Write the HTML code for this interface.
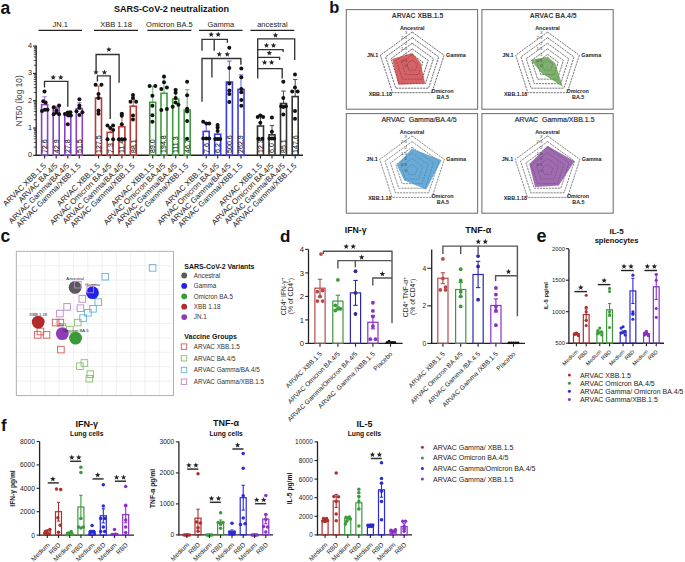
<!DOCTYPE html>
<html><head><meta charset="utf-8"><style>
html,body{margin:0;padding:0;background:#fff;width:685px;height:562px;overflow:hidden;}
svg{display:block;font-family:"Liberation Sans", sans-serif;}
</style></head><body>
<svg width="685" height="562" viewBox="0 0 685 562" font-family='"Liberation Sans", sans-serif'>
<rect width="685" height="562" fill="#fff"/>
<text x="0.50" y="13.70" font-size="17.5" text-anchor="start" font-weight="bold" fill="#111">a</text>
<text x="171.50" y="11.60" font-size="9.05" text-anchor="middle" font-weight="bold" fill="#111">SARS-CoV-2 neutralization</text>
<text x="60.25" y="27.40" font-size="7.5" text-anchor="middle" fill="#222">JN.1</text>
<line x1="38.50" y1="30.30" x2="82.00" y2="30.30" stroke="#222" stroke-width="1.3"/>
<text x="116.00" y="27.40" font-size="7.5" text-anchor="middle" fill="#222">XBB 1.18</text>
<line x1="94.00" y1="30.30" x2="138.00" y2="30.30" stroke="#222" stroke-width="1.3"/>
<text x="169.40" y="27.40" font-size="7.5" text-anchor="middle" fill="#222">Omicron BA.5</text>
<line x1="147.40" y1="30.30" x2="191.40" y2="30.30" stroke="#222" stroke-width="1.3"/>
<text x="220.75" y="27.40" font-size="7.5" text-anchor="middle" fill="#222">Gamma</text>
<line x1="199.00" y1="30.30" x2="242.50" y2="30.30" stroke="#222" stroke-width="1.3"/>
<text x="272.35" y="27.40" font-size="7.5" text-anchor="middle" fill="#222">ancestral</text>
<line x1="250.40" y1="30.30" x2="294.30" y2="30.30" stroke="#222" stroke-width="1.3"/>
<line x1="36.20" y1="45.60" x2="36.20" y2="155.90" stroke="#222" stroke-width="1.3"/>
<line x1="33.00" y1="155.30" x2="36.20" y2="155.30" stroke="#222" stroke-width="1.1"/>
<text x="32.00" y="157.10" font-size="7.3" text-anchor="end" fill="#222">0</text>
<line x1="33.00" y1="128.00" x2="36.20" y2="128.00" stroke="#222" stroke-width="1.1"/>
<text x="32.00" y="129.80" font-size="7.3" text-anchor="end" fill="#222">1</text>
<line x1="33.00" y1="100.70" x2="36.20" y2="100.70" stroke="#222" stroke-width="1.1"/>
<text x="32.00" y="102.50" font-size="7.3" text-anchor="end" fill="#222">2</text>
<line x1="33.00" y1="73.40" x2="36.20" y2="73.40" stroke="#222" stroke-width="1.1"/>
<text x="32.00" y="75.20" font-size="7.3" text-anchor="end" fill="#222">3</text>
<line x1="33.00" y1="46.10" x2="36.20" y2="46.10" stroke="#222" stroke-width="1.1"/>
<text x="32.00" y="47.90" font-size="7.3" text-anchor="end" fill="#222">4</text>
<line x1="33.80" y1="147.08" x2="36.20" y2="147.08" stroke="#222" stroke-width="0.8"/>
<line x1="33.80" y1="142.27" x2="36.20" y2="142.27" stroke="#222" stroke-width="0.8"/>
<line x1="33.80" y1="138.86" x2="36.20" y2="138.86" stroke="#222" stroke-width="0.8"/>
<line x1="33.80" y1="136.22" x2="36.20" y2="136.22" stroke="#222" stroke-width="0.8"/>
<line x1="33.80" y1="134.06" x2="36.20" y2="134.06" stroke="#222" stroke-width="0.8"/>
<line x1="33.80" y1="132.23" x2="36.20" y2="132.23" stroke="#222" stroke-width="0.8"/>
<line x1="33.80" y1="130.65" x2="36.20" y2="130.65" stroke="#222" stroke-width="0.8"/>
<line x1="33.80" y1="129.25" x2="36.20" y2="129.25" stroke="#222" stroke-width="0.8"/>
<line x1="33.80" y1="119.78" x2="36.20" y2="119.78" stroke="#222" stroke-width="0.8"/>
<line x1="33.80" y1="114.97" x2="36.20" y2="114.97" stroke="#222" stroke-width="0.8"/>
<line x1="33.80" y1="111.56" x2="36.20" y2="111.56" stroke="#222" stroke-width="0.8"/>
<line x1="33.80" y1="108.92" x2="36.20" y2="108.92" stroke="#222" stroke-width="0.8"/>
<line x1="33.80" y1="106.76" x2="36.20" y2="106.76" stroke="#222" stroke-width="0.8"/>
<line x1="33.80" y1="104.93" x2="36.20" y2="104.93" stroke="#222" stroke-width="0.8"/>
<line x1="33.80" y1="103.35" x2="36.20" y2="103.35" stroke="#222" stroke-width="0.8"/>
<line x1="33.80" y1="101.95" x2="36.20" y2="101.95" stroke="#222" stroke-width="0.8"/>
<line x1="33.80" y1="92.48" x2="36.20" y2="92.48" stroke="#222" stroke-width="0.8"/>
<line x1="33.80" y1="87.67" x2="36.20" y2="87.67" stroke="#222" stroke-width="0.8"/>
<line x1="33.80" y1="84.26" x2="36.20" y2="84.26" stroke="#222" stroke-width="0.8"/>
<line x1="33.80" y1="81.62" x2="36.20" y2="81.62" stroke="#222" stroke-width="0.8"/>
<line x1="33.80" y1="79.46" x2="36.20" y2="79.46" stroke="#222" stroke-width="0.8"/>
<line x1="33.80" y1="77.63" x2="36.20" y2="77.63" stroke="#222" stroke-width="0.8"/>
<line x1="33.80" y1="76.05" x2="36.20" y2="76.05" stroke="#222" stroke-width="0.8"/>
<line x1="33.80" y1="74.65" x2="36.20" y2="74.65" stroke="#222" stroke-width="0.8"/>
<line x1="33.80" y1="65.18" x2="36.20" y2="65.18" stroke="#222" stroke-width="0.8"/>
<line x1="33.80" y1="60.37" x2="36.20" y2="60.37" stroke="#222" stroke-width="0.8"/>
<line x1="33.80" y1="56.96" x2="36.20" y2="56.96" stroke="#222" stroke-width="0.8"/>
<line x1="33.80" y1="54.32" x2="36.20" y2="54.32" stroke="#222" stroke-width="0.8"/>
<line x1="33.80" y1="52.16" x2="36.20" y2="52.16" stroke="#222" stroke-width="0.8"/>
<line x1="33.80" y1="50.33" x2="36.20" y2="50.33" stroke="#222" stroke-width="0.8"/>
<line x1="33.80" y1="48.75" x2="36.20" y2="48.75" stroke="#222" stroke-width="0.8"/>
<line x1="33.80" y1="47.35" x2="36.20" y2="47.35" stroke="#222" stroke-width="0.8"/>
<text x="21.70" y="100.80" font-size="8.4" text-anchor="middle" fill="#333" transform="rotate(-90 21.70 100.80)">NT50 (log 10)</text>
<line x1="35.60" y1="155.30" x2="303.00" y2="155.30" stroke="#222" stroke-width="1.4"/>
<line x1="44.60" y1="96.80" x2="44.60" y2="104.60" stroke="#a77ad8" stroke-width="1.1"/>
<line x1="42.40" y1="96.80" x2="46.80" y2="96.80" stroke="#a77ad8" stroke-width="1.1"/>
<rect x="41.60" y="104.60" width="6.00" height="50.70" stroke="#8a43c8" stroke-width="1.6" fill="none"/>
<text x="47.00" y="152.90" font-size="7.0" text-anchor="start" fill="#222" transform="rotate(-90 47.00 152.90)" stroke="#222" stroke-width="0.12">72.6</text>
<circle cx="44.50" cy="91.50" r="2.0" fill="#111"/>
<circle cx="43.20" cy="101.20" r="2.0" fill="#111"/>
<circle cx="45.60" cy="102.40" r="2.0" fill="#111"/>
<circle cx="42.00" cy="111.00" r="2.0" fill="#111"/>
<circle cx="44.90" cy="109.80" r="2.0" fill="#111"/>
<circle cx="47.50" cy="109.80" r="2.0" fill="#111"/>
<line x1="44.60" y1="155.30" x2="44.60" y2="158.50" stroke="#222" stroke-width="1.1"/>
<text x="46.60" y="166.20" font-size="7.85" text-anchor="end" fill="#222" transform="rotate(-45 46.60 166.20)">ARVAC XBB.1.5</text>
<line x1="56.20" y1="106.20" x2="56.20" y2="107.90" stroke="#a77ad8" stroke-width="1.1"/>
<line x1="54.00" y1="106.20" x2="58.40" y2="106.20" stroke="#a77ad8" stroke-width="1.1"/>
<rect x="53.20" y="107.90" width="6.00" height="47.40" stroke="#8a43c8" stroke-width="1.6" fill="none"/>
<text x="58.60" y="152.90" font-size="7.0" text-anchor="start" fill="#222" transform="rotate(-90 58.60 152.90)" stroke="#222" stroke-width="0.12">42.9</text>
<circle cx="53.70" cy="107.20" r="2.0" fill="#111"/>
<circle cx="59.10" cy="105.50" r="2.0" fill="#111"/>
<circle cx="56.40" cy="110.50" r="2.0" fill="#111"/>
<circle cx="53.70" cy="114.30" r="2.0" fill="#111"/>
<circle cx="59.10" cy="114.30" r="2.0" fill="#111"/>
<circle cx="56.40" cy="112.50" r="2.0" fill="#111"/>
<line x1="56.20" y1="155.30" x2="56.20" y2="158.50" stroke="#222" stroke-width="1.1"/>
<text x="58.20" y="166.20" font-size="7.85" text-anchor="end" fill="#222" transform="rotate(-45 58.20 166.20)">ARVAC BA.4/5</text>
<line x1="67.80" y1="112.00" x2="67.80" y2="115.30" stroke="#a77ad8" stroke-width="1.1"/>
<line x1="65.60" y1="112.00" x2="70.00" y2="112.00" stroke="#a77ad8" stroke-width="1.1"/>
<rect x="64.80" y="115.30" width="6.00" height="40.00" stroke="#8a43c8" stroke-width="1.6" fill="none"/>
<text x="70.20" y="152.90" font-size="7.0" text-anchor="start" fill="#222" transform="rotate(-90 70.20 152.90)" stroke="#222" stroke-width="0.12">27.8</text>
<circle cx="64.90" cy="113.90" r="2.0" fill="#111"/>
<circle cx="67.80" cy="112.40" r="2.0" fill="#111"/>
<circle cx="70.40" cy="112.20" r="2.0" fill="#111"/>
<circle cx="68.20" cy="115.50" r="2.0" fill="#111"/>
<circle cx="70.90" cy="115.50" r="2.0" fill="#111"/>
<circle cx="67.80" cy="124.30" r="2.0" fill="#111"/>
<line x1="67.80" y1="155.30" x2="67.80" y2="158.50" stroke="#222" stroke-width="1.1"/>
<text x="69.80" y="166.20" font-size="7.85" text-anchor="end" fill="#222" transform="rotate(-45 69.80 166.20)">ARVAC Gamma/BA.4/5</text>
<line x1="79.30" y1="102.70" x2="79.30" y2="108.70" stroke="#a77ad8" stroke-width="1.1"/>
<line x1="77.10" y1="102.70" x2="81.50" y2="102.70" stroke="#a77ad8" stroke-width="1.1"/>
<rect x="76.30" y="108.70" width="6.00" height="46.60" stroke="#8a43c8" stroke-width="1.6" fill="none"/>
<text x="81.70" y="152.90" font-size="7.0" text-anchor="start" fill="#222" transform="rotate(-90 81.70 152.90)" stroke="#222" stroke-width="0.12">51.5</text>
<circle cx="79.40" cy="99.30" r="2.0" fill="#111"/>
<circle cx="79.40" cy="105.50" r="2.0" fill="#111"/>
<circle cx="79.40" cy="107.70" r="2.0" fill="#111"/>
<circle cx="76.50" cy="111.20" r="2.0" fill="#111"/>
<circle cx="82.40" cy="112.20" r="2.0" fill="#111"/>
<circle cx="79.40" cy="115.10" r="2.0" fill="#111"/>
<line x1="79.30" y1="155.30" x2="79.30" y2="158.50" stroke="#222" stroke-width="1.1"/>
<text x="81.30" y="166.20" font-size="7.85" text-anchor="end" fill="#222" transform="rotate(-45 81.30 166.20)">ARVAC Gamma/XBB.1.5</text>
<line x1="98.50" y1="86.00" x2="98.50" y2="98.10" stroke="#cc6a66" stroke-width="1.1"/>
<line x1="96.30" y1="86.00" x2="100.70" y2="86.00" stroke="#cc6a66" stroke-width="1.1"/>
<rect x="95.50" y="98.10" width="6.00" height="57.20" stroke="#b83a36" stroke-width="1.6" fill="none"/>
<text x="100.90" y="152.90" font-size="7.0" text-anchor="start" fill="#222" transform="rotate(-90 100.90 152.90)" stroke="#222" stroke-width="0.12">127.5</text>
<circle cx="95.60" cy="84.70" r="2.0" fill="#111"/>
<circle cx="101.50" cy="84.70" r="2.0" fill="#111"/>
<circle cx="98.50" cy="94.00" r="2.0" fill="#111"/>
<circle cx="98.50" cy="98.10" r="2.0" fill="#111"/>
<circle cx="98.50" cy="110.50" r="2.0" fill="#111"/>
<circle cx="98.50" cy="113.70" r="2.0" fill="#111"/>
<line x1="98.50" y1="155.30" x2="98.50" y2="158.50" stroke="#222" stroke-width="1.1"/>
<text x="100.50" y="166.20" font-size="7.85" text-anchor="end" fill="#222" transform="rotate(-45 100.50 166.20)">ARVAC XBB.1.5</text>
<line x1="110.20" y1="127.00" x2="110.20" y2="132.40" stroke="#cc6a66" stroke-width="1.1"/>
<line x1="108.00" y1="127.00" x2="112.40" y2="127.00" stroke="#cc6a66" stroke-width="1.1"/>
<rect x="107.20" y="132.40" width="6.00" height="22.90" stroke="#b83a36" stroke-width="1.6" fill="none"/>
<text x="112.60" y="152.90" font-size="7.0" text-anchor="start" fill="#222" transform="rotate(-90 112.60 152.90)" stroke="#222" stroke-width="0.12">7.3</text>
<circle cx="107.50" cy="125.50" r="2.0" fill="#111"/>
<circle cx="113.10" cy="125.50" r="2.0" fill="#111"/>
<circle cx="110.20" cy="128.00" r="2.0" fill="#111"/>
<circle cx="113.10" cy="129.90" r="2.0" fill="#111"/>
<circle cx="107.50" cy="139.20" r="2.0" fill="#111"/>
<circle cx="113.10" cy="139.20" r="2.0" fill="#111"/>
<line x1="110.20" y1="155.30" x2="110.20" y2="158.50" stroke="#222" stroke-width="1.1"/>
<text x="112.20" y="166.20" font-size="7.85" text-anchor="end" fill="#222" transform="rotate(-45 112.20 166.20)">ARVAC Omicron BA.4/5</text>
<line x1="121.90" y1="114.00" x2="121.90" y2="126.70" stroke="#cc6a66" stroke-width="1.1"/>
<line x1="119.70" y1="114.00" x2="124.10" y2="114.00" stroke="#cc6a66" stroke-width="1.1"/>
<rect x="118.90" y="126.70" width="6.00" height="28.60" stroke="#b83a36" stroke-width="1.6" fill="none"/>
<text x="124.30" y="152.90" font-size="7.0" text-anchor="start" fill="#222" transform="rotate(-90 124.30 152.90)" stroke="#222" stroke-width="0.12">11.4</text>
<circle cx="121.80" cy="113.70" r="2.0" fill="#111"/>
<circle cx="121.80" cy="115.80" r="2.0" fill="#111"/>
<circle cx="121.80" cy="124.30" r="2.0" fill="#111"/>
<circle cx="118.90" cy="139.20" r="2.0" fill="#111"/>
<circle cx="124.70" cy="139.20" r="2.0" fill="#111"/>
<circle cx="121.80" cy="139.20" r="2.0" fill="#111"/>
<line x1="121.90" y1="155.30" x2="121.90" y2="158.50" stroke="#222" stroke-width="1.1"/>
<text x="123.90" y="166.20" font-size="7.85" text-anchor="end" fill="#222" transform="rotate(-45 123.90 166.20)">ARVAC Gamma/BA.4/5</text>
<line x1="133.30" y1="99.50" x2="133.30" y2="106.20" stroke="#cc6a66" stroke-width="1.1"/>
<line x1="131.10" y1="99.50" x2="135.50" y2="99.50" stroke="#cc6a66" stroke-width="1.1"/>
<rect x="130.30" y="106.20" width="6.00" height="49.10" stroke="#b83a36" stroke-width="1.6" fill="none"/>
<text x="135.70" y="152.90" font-size="7.0" text-anchor="start" fill="#222" transform="rotate(-90 135.70 152.90)" stroke="#222" stroke-width="0.12">88.1</text>
<circle cx="133.00" cy="95.00" r="2.0" fill="#111"/>
<circle cx="133.00" cy="98.10" r="2.0" fill="#111"/>
<circle cx="130.50" cy="101.80" r="2.0" fill="#111"/>
<circle cx="136.10" cy="101.80" r="2.0" fill="#111"/>
<circle cx="133.00" cy="115.50" r="2.0" fill="#111"/>
<circle cx="133.00" cy="119.60" r="2.0" fill="#111"/>
<line x1="133.30" y1="155.30" x2="133.30" y2="158.50" stroke="#222" stroke-width="1.1"/>
<text x="135.30" y="166.20" font-size="7.85" text-anchor="end" fill="#222" transform="rotate(-45 135.30 166.20)">ARVAC Gamma/XBB.1.5</text>
<line x1="152.70" y1="86.30" x2="152.70" y2="102.30" stroke="#6fb86f" stroke-width="1.1"/>
<line x1="150.50" y1="86.30" x2="154.90" y2="86.30" stroke="#6fb86f" stroke-width="1.1"/>
<rect x="149.70" y="102.30" width="6.00" height="53.00" stroke="#3f9b3f" stroke-width="1.6" fill="none"/>
<text x="155.10" y="152.90" font-size="7.0" text-anchor="start" fill="#222" transform="rotate(-90 155.10 152.90)" stroke="#222" stroke-width="0.12">89.0</text>
<circle cx="149.60" cy="86.00" r="2.0" fill="#111"/>
<circle cx="155.30" cy="86.00" r="2.0" fill="#111"/>
<circle cx="152.40" cy="95.70" r="2.0" fill="#111"/>
<circle cx="152.40" cy="105.70" r="2.0" fill="#111"/>
<circle cx="152.40" cy="115.30" r="2.0" fill="#111"/>
<circle cx="152.40" cy="121.70" r="2.0" fill="#111"/>
<line x1="152.70" y1="155.30" x2="152.70" y2="158.50" stroke="#222" stroke-width="1.1"/>
<text x="154.70" y="166.20" font-size="7.85" text-anchor="end" fill="#222" transform="rotate(-45 154.70 166.20)">ARVAC XBB.1.5</text>
<line x1="164.00" y1="77.70" x2="164.00" y2="93.30" stroke="#6fb86f" stroke-width="1.1"/>
<line x1="161.80" y1="77.70" x2="166.20" y2="77.70" stroke="#6fb86f" stroke-width="1.1"/>
<rect x="161.00" y="93.30" width="6.00" height="62.00" stroke="#3f9b3f" stroke-width="1.6" fill="none"/>
<text x="166.40" y="152.90" font-size="7.0" text-anchor="start" fill="#222" transform="rotate(-90 166.40 152.90)" stroke="#222" stroke-width="0.12">194.8</text>
<circle cx="164.00" cy="76.40" r="2.0" fill="#111"/>
<circle cx="164.00" cy="82.30" r="2.0" fill="#111"/>
<circle cx="161.30" cy="88.90" r="2.0" fill="#111"/>
<circle cx="166.90" cy="87.60" r="2.0" fill="#111"/>
<circle cx="161.30" cy="110.00" r="2.0" fill="#111"/>
<circle cx="166.90" cy="109.10" r="2.0" fill="#111"/>
<line x1="164.00" y1="155.30" x2="164.00" y2="158.50" stroke="#222" stroke-width="1.1"/>
<text x="166.00" y="166.20" font-size="7.85" text-anchor="end" fill="#222" transform="rotate(-45 166.00 166.20)">ARVAC Omicron BA.4/5</text>
<line x1="175.70" y1="89.10" x2="175.70" y2="99.10" stroke="#6fb86f" stroke-width="1.1"/>
<line x1="173.50" y1="89.10" x2="177.90" y2="89.10" stroke="#6fb86f" stroke-width="1.1"/>
<rect x="172.70" y="99.10" width="6.00" height="56.20" stroke="#3f9b3f" stroke-width="1.6" fill="none"/>
<text x="178.10" y="152.90" font-size="7.0" text-anchor="start" fill="#222" transform="rotate(-90 178.10 152.90)" stroke="#222" stroke-width="0.12">111.3</text>
<circle cx="175.60" cy="90.00" r="2.0" fill="#111"/>
<circle cx="175.60" cy="92.70" r="2.0" fill="#111"/>
<circle cx="175.60" cy="98.00" r="2.0" fill="#111"/>
<circle cx="175.60" cy="102.40" r="2.0" fill="#111"/>
<circle cx="172.70" cy="106.70" r="2.0" fill="#111"/>
<circle cx="178.40" cy="104.70" r="2.0" fill="#111"/>
<line x1="175.70" y1="155.30" x2="175.70" y2="158.50" stroke="#222" stroke-width="1.1"/>
<text x="177.70" y="166.20" font-size="7.85" text-anchor="end" fill="#222" transform="rotate(-45 177.70 166.20)">ARVAC Gamma/BA.4/5</text>
<line x1="187.20" y1="89.70" x2="187.20" y2="110.00" stroke="#6fb86f" stroke-width="1.1"/>
<line x1="185.00" y1="89.70" x2="189.40" y2="89.70" stroke="#6fb86f" stroke-width="1.1"/>
<rect x="184.20" y="110.00" width="6.00" height="45.30" stroke="#3f9b3f" stroke-width="1.6" fill="none"/>
<text x="189.60" y="152.90" font-size="7.0" text-anchor="start" fill="#222" transform="rotate(-90 189.60 152.90)" stroke="#222" stroke-width="0.12">46.7</text>
<circle cx="187.10" cy="81.70" r="2.0" fill="#111"/>
<circle cx="187.10" cy="95.30" r="2.0" fill="#111"/>
<circle cx="187.10" cy="108.70" r="2.0" fill="#111"/>
<circle cx="187.10" cy="111.60" r="2.0" fill="#111"/>
<circle cx="187.10" cy="120.90" r="2.0" fill="#111"/>
<circle cx="187.10" cy="138.70" r="2.0" fill="#111"/>
<line x1="187.20" y1="155.30" x2="187.20" y2="158.50" stroke="#222" stroke-width="1.1"/>
<text x="189.20" y="166.20" font-size="7.85" text-anchor="end" fill="#222" transform="rotate(-45 189.20 166.20)">ARVAC Gamma/XBB.1.5</text>
<line x1="206.20" y1="122.80" x2="206.20" y2="131.40" stroke="#6b6bf0" stroke-width="1.1"/>
<line x1="204.00" y1="122.80" x2="208.40" y2="122.80" stroke="#6b6bf0" stroke-width="1.1"/>
<rect x="203.20" y="131.40" width="6.00" height="23.90" stroke="#3b3be6" stroke-width="1.6" fill="none"/>
<text x="208.60" y="152.90" font-size="7.0" text-anchor="start" fill="#222" transform="rotate(-90 208.60 152.90)" stroke="#222" stroke-width="0.12">7.6</text>
<circle cx="203.20" cy="121.70" r="2.0" fill="#111"/>
<circle cx="206.40" cy="123.60" r="2.0" fill="#111"/>
<circle cx="209.20" cy="123.60" r="2.0" fill="#111"/>
<circle cx="203.20" cy="138.50" r="2.0" fill="#111"/>
<circle cx="206.40" cy="138.50" r="2.0" fill="#111"/>
<circle cx="209.20" cy="138.50" r="2.0" fill="#111"/>
<line x1="206.20" y1="155.30" x2="206.20" y2="158.50" stroke="#222" stroke-width="1.1"/>
<text x="208.20" y="166.20" font-size="7.85" text-anchor="end" fill="#222" transform="rotate(-45 208.20 166.20)">ARVAC XBB.1.5</text>
<line x1="217.70" y1="127.00" x2="217.70" y2="134.20" stroke="#6b6bf0" stroke-width="1.1"/>
<line x1="215.50" y1="127.00" x2="219.90" y2="127.00" stroke="#6b6bf0" stroke-width="1.1"/>
<rect x="214.70" y="134.20" width="6.00" height="21.10" stroke="#3b3be6" stroke-width="1.6" fill="none"/>
<text x="220.10" y="152.90" font-size="7.0" text-anchor="start" fill="#222" transform="rotate(-90 220.10 152.90)" stroke="#222" stroke-width="0.12">6.2</text>
<circle cx="217.60" cy="124.90" r="2.0" fill="#111"/>
<circle cx="217.60" cy="127.70" r="2.0" fill="#111"/>
<circle cx="217.60" cy="130.90" r="2.0" fill="#111"/>
<circle cx="215.20" cy="138.90" r="2.0" fill="#111"/>
<circle cx="220.20" cy="138.90" r="2.0" fill="#111"/>
<circle cx="217.60" cy="138.90" r="2.0" fill="#111"/>
<line x1="217.70" y1="155.30" x2="217.70" y2="158.50" stroke="#222" stroke-width="1.1"/>
<text x="219.70" y="166.20" font-size="7.85" text-anchor="end" fill="#222" transform="rotate(-45 219.70 166.20)">ARVAC Omicron BA.4/5</text>
<line x1="229.40" y1="61.10" x2="229.40" y2="82.00" stroke="#6b6bf0" stroke-width="1.1"/>
<line x1="227.20" y1="61.10" x2="231.60" y2="61.10" stroke="#6b6bf0" stroke-width="1.1"/>
<rect x="226.40" y="82.00" width="6.00" height="73.30" stroke="#3b3be6" stroke-width="1.6" fill="none"/>
<text x="231.80" y="152.90" font-size="7.0" text-anchor="start" fill="#222" transform="rotate(-90 231.80 152.90)" stroke="#222" stroke-width="0.12">500.6</text>
<circle cx="229.30" cy="47.80" r="2.0" fill="#111"/>
<circle cx="229.30" cy="68.00" r="2.0" fill="#111"/>
<circle cx="229.30" cy="83.50" r="2.0" fill="#111"/>
<circle cx="229.30" cy="90.40" r="2.0" fill="#111"/>
<circle cx="229.30" cy="94.10" r="2.0" fill="#111"/>
<circle cx="229.30" cy="101.90" r="2.0" fill="#111"/>
<line x1="229.40" y1="155.30" x2="229.40" y2="158.50" stroke="#222" stroke-width="1.1"/>
<text x="231.40" y="166.20" font-size="7.85" text-anchor="end" fill="#222" transform="rotate(-45 231.40 166.20)">ARVAC Gamma/BA.4/5</text>
<line x1="241.00" y1="74.90" x2="241.00" y2="89.40" stroke="#6b6bf0" stroke-width="1.1"/>
<line x1="238.80" y1="74.90" x2="243.20" y2="74.90" stroke="#6b6bf0" stroke-width="1.1"/>
<rect x="238.00" y="89.40" width="6.00" height="65.90" stroke="#3b3be6" stroke-width="1.6" fill="none"/>
<text x="243.40" y="152.90" font-size="7.0" text-anchor="start" fill="#222" transform="rotate(-90 243.40 152.90)" stroke="#222" stroke-width="0.12">262.9</text>
<circle cx="241.30" cy="68.40" r="2.0" fill="#111"/>
<circle cx="241.30" cy="77.30" r="2.0" fill="#111"/>
<circle cx="241.30" cy="88.90" r="2.0" fill="#111"/>
<circle cx="241.30" cy="92.20" r="2.0" fill="#111"/>
<circle cx="241.30" cy="100.10" r="2.0" fill="#111"/>
<circle cx="241.30" cy="105.70" r="2.0" fill="#111"/>
<line x1="241.00" y1="155.30" x2="241.00" y2="158.50" stroke="#222" stroke-width="1.1"/>
<text x="243.00" y="166.20" font-size="7.85" text-anchor="end" fill="#222" transform="rotate(-45 243.00 166.20)">ARVAC Gamma/XBB.1.5</text>
<line x1="260.50" y1="115.10" x2="260.50" y2="126.00" stroke="#555555" stroke-width="1.1"/>
<line x1="258.30" y1="115.10" x2="262.70" y2="115.10" stroke="#555555" stroke-width="1.1"/>
<rect x="257.50" y="126.00" width="6.00" height="29.30" stroke="#333333" stroke-width="1.6" fill="none"/>
<text x="262.90" y="152.90" font-size="7.0" text-anchor="start" fill="#222" transform="rotate(-90 262.90 152.90)" stroke="#222" stroke-width="0.12">12.3</text>
<circle cx="257.70" cy="117.00" r="2.0" fill="#111"/>
<circle cx="260.30" cy="115.60" r="2.0" fill="#111"/>
<circle cx="263.10" cy="117.00" r="2.0" fill="#111"/>
<circle cx="260.30" cy="122.70" r="2.0" fill="#111"/>
<circle cx="258.40" cy="138.80" r="2.0" fill="#111"/>
<circle cx="262.30" cy="138.80" r="2.0" fill="#111"/>
<line x1="260.50" y1="155.30" x2="260.50" y2="158.50" stroke="#222" stroke-width="1.1"/>
<text x="262.50" y="166.20" font-size="7.85" text-anchor="end" fill="#222" transform="rotate(-45 262.50 166.20)">ARVAC XBB.1.5</text>
<line x1="272.00" y1="125.50" x2="272.00" y2="134.80" stroke="#555555" stroke-width="1.1"/>
<line x1="269.80" y1="125.50" x2="274.20" y2="125.50" stroke="#555555" stroke-width="1.1"/>
<rect x="269.00" y="134.80" width="6.00" height="20.50" stroke="#333333" stroke-width="1.6" fill="none"/>
<text x="274.40" y="152.90" font-size="7.0" text-anchor="start" fill="#222" transform="rotate(-90 274.40 152.90)" stroke="#222" stroke-width="0.12">6.0</text>
<circle cx="271.90" cy="117.40" r="2.0" fill="#111"/>
<circle cx="271.90" cy="131.70" r="2.0" fill="#111"/>
<circle cx="269.40" cy="138.40" r="2.0" fill="#111"/>
<circle cx="274.10" cy="138.40" r="2.0" fill="#111"/>
<circle cx="271.90" cy="138.60" r="2.0" fill="#111"/>
<line x1="272.00" y1="155.30" x2="272.00" y2="158.50" stroke="#222" stroke-width="1.1"/>
<text x="274.00" y="166.20" font-size="7.85" text-anchor="end" fill="#222" transform="rotate(-45 274.00 166.20)">ARVAC Omicron BA.4/5</text>
<line x1="283.50" y1="91.10" x2="283.50" y2="103.50" stroke="#555555" stroke-width="1.1"/>
<line x1="281.30" y1="91.10" x2="285.70" y2="91.10" stroke="#555555" stroke-width="1.1"/>
<rect x="280.50" y="103.50" width="6.00" height="51.80" stroke="#333333" stroke-width="1.6" fill="none"/>
<text x="285.90" y="152.90" font-size="7.0" text-anchor="start" fill="#222" transform="rotate(-90 285.90 152.90)" stroke="#222" stroke-width="0.12">85.1</text>
<circle cx="283.30" cy="81.80" r="2.0" fill="#111"/>
<circle cx="283.30" cy="98.00" r="2.0" fill="#111"/>
<circle cx="281.20" cy="106.30" r="2.0" fill="#111"/>
<circle cx="285.90" cy="106.30" r="2.0" fill="#111"/>
<circle cx="283.30" cy="107.00" r="2.0" fill="#111"/>
<circle cx="283.30" cy="114.60" r="2.0" fill="#111"/>
<line x1="283.50" y1="155.30" x2="283.50" y2="158.50" stroke="#222" stroke-width="1.1"/>
<text x="285.50" y="166.20" font-size="7.85" text-anchor="end" fill="#222" transform="rotate(-45 285.50 166.20)">ARVAC Gamma/BA.4/5</text>
<line x1="295.20" y1="79.50" x2="295.20" y2="96.60" stroke="#555555" stroke-width="1.1"/>
<line x1="293.00" y1="79.50" x2="297.40" y2="79.50" stroke="#555555" stroke-width="1.1"/>
<rect x="292.20" y="96.60" width="6.00" height="58.70" stroke="#333333" stroke-width="1.6" fill="none"/>
<text x="297.60" y="152.90" font-size="7.0" text-anchor="start" fill="#222" transform="rotate(-90 297.60 152.90)" stroke="#222" stroke-width="0.12">147.6</text>
<circle cx="295.00" cy="74.50" r="2.0" fill="#111"/>
<circle cx="295.00" cy="87.50" r="2.0" fill="#111"/>
<circle cx="292.20" cy="91.40" r="2.0" fill="#111"/>
<circle cx="297.60" cy="91.40" r="2.0" fill="#111"/>
<circle cx="295.00" cy="110.90" r="2.0" fill="#111"/>
<circle cx="295.00" cy="118.80" r="2.0" fill="#111"/>
<line x1="295.20" y1="155.30" x2="295.20" y2="158.50" stroke="#222" stroke-width="1.1"/>
<text x="297.20" y="166.20" font-size="7.85" text-anchor="end" fill="#222" transform="rotate(-45 297.20 166.20)">ARVAC Gamma/XBB.1.5</text>
<polyline points="44.50,87.50 44.50,81.30 67.80,81.30 67.80,106.80" stroke="#333" stroke-width="1.35" fill="none"/>
<polygon points="53.20,74.60 53.92,76.51 55.96,76.60 54.36,77.88 54.90,79.85 53.20,78.72 51.50,79.85 52.04,77.88 50.44,76.60 52.48,76.51" stroke="none" stroke-width="1" fill="#222"/>
<polygon points="60.80,74.60 61.52,76.51 63.56,76.60 61.96,77.88 62.50,79.85 60.80,78.72 59.10,79.85 59.64,77.88 58.04,76.60 60.08,76.51" stroke="none" stroke-width="1" fill="#222"/>
<polyline points="97.40,81.60 97.40,75.90 110.20,75.90 110.20,119.00" stroke="#333" stroke-width="1.35" fill="none"/>
<polygon points="95.95,69.50 96.67,71.41 98.71,71.50 97.11,72.78 97.65,74.75 95.95,73.62 94.25,74.75 94.79,72.78 93.19,71.50 95.23,71.41" stroke="none" stroke-width="1" fill="#222"/>
<polygon points="104.45,69.50 105.17,71.41 107.21,71.50 105.61,72.78 106.15,74.75 104.45,73.62 102.75,74.75 103.29,72.78 101.69,71.50 103.73,71.41" stroke="none" stroke-width="1" fill="#222"/>
<polyline points="96.10,72.00 96.10,54.50 119.10,54.50 119.10,82.70" stroke="#333" stroke-width="1.35" fill="none"/>
<polygon points="108.90,46.70 109.62,48.61 111.66,48.70 110.06,49.98 110.60,51.95 108.90,50.82 107.20,51.95 107.74,49.98 106.14,48.70 108.18,48.61" stroke="none" stroke-width="1" fill="#222"/>
<polyline points="202.00,50.80 202.00,39.30 227.40,39.30 227.40,42.70" stroke="#333" stroke-width="1.35" fill="none"/>
<line x1="214.20" y1="39.30" x2="214.20" y2="50.80" stroke="#333" stroke-width="1.35"/>
<polygon points="211.20,31.70 211.92,33.61 213.96,33.70 212.36,34.98 212.90,36.95 211.20,35.82 209.50,36.95 210.04,34.98 208.44,33.70 210.48,33.61" stroke="none" stroke-width="1" fill="#222"/>
<polygon points="218.20,31.70 218.92,33.61 220.96,33.70 219.36,34.98 219.90,36.95 218.20,35.82 216.50,36.95 217.04,34.98 215.44,33.70 217.48,33.61" stroke="none" stroke-width="1" fill="#222"/>
<polyline points="202.00,101.80 202.00,58.50 240.90,58.50 240.90,64.70" stroke="#333" stroke-width="1.35" fill="none"/>
<line x1="211.90" y1="58.50" x2="211.90" y2="77.50" stroke="#333" stroke-width="1.35"/>
<polygon points="219.30,51.40 220.02,53.31 222.06,53.40 220.46,54.68 221.00,56.65 219.30,55.52 217.60,56.65 218.14,54.68 216.54,53.40 218.58,53.31" stroke="none" stroke-width="1" fill="#222"/>
<polygon points="227.30,51.40 228.02,53.31 230.06,53.40 228.46,54.68 229.00,56.65 227.30,55.52 225.60,56.65 226.14,54.68 224.54,53.40 226.58,53.31" stroke="none" stroke-width="1" fill="#222"/>
<polyline points="257.70,78.50 257.70,38.80 294.70,38.80 294.70,60.00" stroke="#333" stroke-width="1.35" fill="none"/>
<polygon points="275.50,32.40 276.22,34.31 278.26,34.40 276.66,35.68 277.20,37.65 275.50,36.52 273.80,37.65 274.34,35.68 272.74,34.40 274.78,34.31" stroke="none" stroke-width="1" fill="#222"/>
<polyline points="257.70,49.60 283.10,49.60 283.10,52.00" stroke="#333" stroke-width="1.35" fill="none"/>
<polygon points="266.50,42.60 267.22,44.51 269.26,44.60 267.66,45.88 268.20,47.85 266.50,46.72 264.80,47.85 265.34,45.88 263.74,44.60 265.78,44.51" stroke="none" stroke-width="1" fill="#222"/>
<polygon points="273.50,42.60 274.22,44.51 276.26,44.60 274.66,45.88 275.20,47.85 273.50,46.72 271.80,47.85 272.34,45.88 270.74,44.60 272.78,44.51" stroke="none" stroke-width="1" fill="#222"/>
<polyline points="257.70,57.30 279.60,57.30 279.60,60.00" stroke="#333" stroke-width="1.35" fill="none"/>
<polygon points="269.30,50.20 270.02,52.11 272.06,52.20 270.46,53.48 271.00,55.45 269.30,54.32 267.60,55.45 268.14,53.48 266.54,52.20 268.58,52.11" stroke="none" stroke-width="1" fill="#222"/>
<polyline points="257.70,68.60 282.20,68.60 282.20,78.50" stroke="#333" stroke-width="1.35" fill="none"/>
<polygon points="264.60,59.60 265.32,61.51 267.36,61.60 265.76,62.88 266.30,64.85 264.60,63.72 262.90,64.85 263.44,62.88 261.84,61.60 263.88,61.51" stroke="none" stroke-width="1" fill="#222"/>
<polygon points="271.60,59.60 272.32,61.51 274.36,61.60 272.76,62.88 273.30,64.85 271.60,63.72 269.90,64.85 270.44,62.88 268.84,61.60 270.88,61.51" stroke="none" stroke-width="1" fill="#222"/>
<text x="329.20" y="13.20" font-size="16.5" text-anchor="start" font-weight="bold" fill="#111">b</text>
<rect x="346.30" y="9.60" width="131.30" height="99.60" stroke="#777" stroke-width="1.1" fill="none"/>
<text x="417.60" y="17.70" font-size="6.85" text-anchor="middle" font-weight="bold" fill="#3a3a3a">ARVAC XBB.1.5</text>
<polygon points="412.20,60.02 417.51,63.87 415.48,70.12 408.92,70.12 406.89,63.87" stroke="#222" stroke-width="0.65" fill="none" stroke-dasharray="2.2 0.8"/>
<polygon points="412.20,54.43 422.82,62.15 418.76,74.63 405.64,74.63 401.58,62.15" stroke="#222" stroke-width="0.65" fill="none" stroke-dasharray="2.2 0.8"/>
<polygon points="412.20,48.85 428.13,60.42 422.05,79.15 402.35,79.15 396.27,60.42" stroke="#222" stroke-width="0.65" fill="none" stroke-dasharray="2.2 0.8"/>
<polygon points="412.20,43.27 433.44,58.70 425.33,83.67 399.07,83.67 390.96,58.70" stroke="#222" stroke-width="0.65" fill="none" stroke-dasharray="2.2 0.8"/>
<polygon points="412.20,37.68 438.75,56.97 428.61,88.19 395.79,88.19 385.65,56.97" stroke="#222" stroke-width="0.65" fill="none" stroke-dasharray="2.2 0.8"/>
<polygon points="412.20,32.10 444.06,55.25 431.89,92.70 392.51,92.70 380.34,55.25" stroke="#222" stroke-width="0.65" fill="none" stroke-dasharray="2.2 0.8"/>
<polygon points="412.20,52.98 420.59,62.87 425.13,83.40 398.29,84.75 392.13,59.08" stroke="none" stroke-width="1" fill="#c8373e" fill-opacity="0.78"/>
<text x="407.20" y="67.20" font-size="4.4" text-anchor="end" fill="#444">0</text>
<text x="407.20" y="61.62" font-size="4.4" text-anchor="end" fill="#444">0.5</text>
<text x="407.20" y="56.03" font-size="4.4" text-anchor="end" fill="#444">1</text>
<text x="407.20" y="50.45" font-size="4.4" text-anchor="end" fill="#444">1.5</text>
<text x="407.20" y="44.87" font-size="4.4" text-anchor="end" fill="#444">2</text>
<text x="407.20" y="39.28" font-size="4.4" text-anchor="end" fill="#444">2.5</text>
<text x="407.20" y="33.70" font-size="4.4" text-anchor="end" fill="#444">3</text>
<text x="412.20" y="29.70" font-size="5.4" text-anchor="middle" font-weight="bold" fill="#222">Ancestral</text>
<text x="446.06" y="57.25" font-size="5.4" text-anchor="start" font-weight="bold" fill="#222">Gamma</text>
<text x="442.39" y="92.90" font-size="5.4" text-anchor="middle" font-weight="bold" fill="#222">Omicron</text>
<text x="442.89" y="99.00" font-size="5.4" text-anchor="middle" font-weight="bold" fill="#222">BA.5</text>
<text x="392.01" y="95.60" font-size="5.4" text-anchor="end" font-weight="bold" fill="#222">XBB.1.18</text>
<text x="378.34" y="57.25" font-size="5.4" text-anchor="end" font-weight="bold" fill="#222">JN.1</text>
<rect x="481.90" y="9.60" width="131.30" height="99.60" stroke="#777" stroke-width="1.1" fill="none"/>
<text x="553.20" y="17.70" font-size="6.85" text-anchor="middle" font-weight="bold" fill="#3a3a3a">ARVAC BA.4/5</text>
<polygon points="547.50,60.02 552.81,63.87 550.78,70.12 544.22,70.12 542.19,63.87" stroke="#333" stroke-width="0.65" fill="none" stroke-dasharray="2.2 0.8"/>
<polygon points="547.50,54.43 558.12,62.15 554.06,74.63 540.94,74.63 536.88,62.15" stroke="#333" stroke-width="0.65" fill="none" stroke-dasharray="2.2 0.8"/>
<polygon points="547.50,48.85 563.43,60.42 557.35,79.15 537.65,79.15 531.57,60.42" stroke="#333" stroke-width="0.65" fill="none" stroke-dasharray="2.2 0.8"/>
<polygon points="547.50,43.27 568.74,58.70 560.63,83.67 534.37,83.67 526.26,58.70" stroke="#333" stroke-width="0.65" fill="none" stroke-dasharray="2.2 0.8"/>
<polygon points="547.50,37.68 574.05,56.97 563.91,88.19 531.09,88.19 520.95,56.97" stroke="#333" stroke-width="0.65" fill="none" stroke-dasharray="2.2 0.8"/>
<polygon points="547.50,32.10 579.36,55.25 567.19,92.70 527.81,92.70 515.64,55.25" stroke="#333" stroke-width="0.65" fill="none" stroke-dasharray="2.2 0.8"/>
<polygon points="547.50,56.78 555.15,63.12 562.79,86.65 541.86,73.37 530.51,60.08" stroke="none" stroke-width="1" fill="#5c9a44" fill-opacity="0.78"/>
<text x="542.50" y="67.20" font-size="4.4" text-anchor="end" fill="#444">0</text>
<text x="542.50" y="61.62" font-size="4.4" text-anchor="end" fill="#444">0.5</text>
<text x="542.50" y="56.03" font-size="4.4" text-anchor="end" fill="#444">1</text>
<text x="542.50" y="50.45" font-size="4.4" text-anchor="end" fill="#444">1.5</text>
<text x="542.50" y="44.87" font-size="4.4" text-anchor="end" fill="#444">2</text>
<text x="542.50" y="39.28" font-size="4.4" text-anchor="end" fill="#444">2.5</text>
<text x="542.50" y="33.70" font-size="4.4" text-anchor="end" fill="#444">3</text>
<text x="547.50" y="29.70" font-size="5.4" text-anchor="middle" font-weight="bold" fill="#222">Ancestral</text>
<text x="581.36" y="57.25" font-size="5.4" text-anchor="start" font-weight="bold" fill="#222">Gamma</text>
<text x="577.69" y="92.90" font-size="5.4" text-anchor="middle" font-weight="bold" fill="#222">Omicron</text>
<text x="578.19" y="99.00" font-size="5.4" text-anchor="middle" font-weight="bold" fill="#222">BA.5</text>
<text x="527.31" y="95.60" font-size="5.4" text-anchor="end" font-weight="bold" fill="#222">XBB.1.18</text>
<text x="513.64" y="57.25" font-size="5.4" text-anchor="end" font-weight="bold" fill="#222">JN.1</text>
<rect x="346.30" y="113.60" width="131.30" height="99.60" stroke="#777" stroke-width="1.1" fill="none"/>
<text x="419.00" y="121.50" font-size="7.0" text-anchor="middle" fill="#222" xml:space="preserve" stroke="#222" stroke-width="0.15">ARVAC  Gamma/BA.4/5</text>
<polygon points="412.00,164.23 417.39,168.15 415.33,174.48 408.67,174.48 406.61,168.15" stroke="#555" stroke-width="0.65" fill="none" stroke-dasharray="2.2 0.8"/>
<polygon points="412.00,158.57 422.78,166.40 418.66,179.07 405.34,179.07 401.22,166.40" stroke="#555" stroke-width="0.65" fill="none" stroke-dasharray="2.2 0.8"/>
<polygon points="412.00,152.90 428.17,164.65 421.99,183.65 402.01,183.65 395.83,164.65" stroke="#555" stroke-width="0.65" fill="none" stroke-dasharray="2.2 0.8"/>
<polygon points="412.00,147.23 433.56,162.90 425.32,188.24 398.68,188.24 390.44,162.90" stroke="#555" stroke-width="0.65" fill="none" stroke-dasharray="2.2 0.8"/>
<polygon points="412.00,141.57 438.95,161.14 428.65,192.82 395.35,192.82 385.05,161.14" stroke="#555" stroke-width="0.65" fill="none" stroke-dasharray="2.2 0.8"/>
<polygon points="412.00,135.90 444.34,159.39 431.98,197.41 392.02,197.41 379.66,159.39" stroke="#555" stroke-width="0.65" fill="none" stroke-dasharray="2.2 0.8"/>
<polygon points="412.00,148.46 441.52,160.31 426.24,189.50 404.32,180.47 396.81,164.97" stroke="none" stroke-width="1" fill="#4092cc" fill-opacity="0.78"/>
<text x="407.00" y="171.50" font-size="4.4" text-anchor="end" fill="#444">0</text>
<text x="407.00" y="165.83" font-size="4.4" text-anchor="end" fill="#444">0.5</text>
<text x="407.00" y="160.17" font-size="4.4" text-anchor="end" fill="#444">1</text>
<text x="407.00" y="154.50" font-size="4.4" text-anchor="end" fill="#444">1.5</text>
<text x="407.00" y="148.83" font-size="4.4" text-anchor="end" fill="#444">2</text>
<text x="407.00" y="143.17" font-size="4.4" text-anchor="end" fill="#444">2.5</text>
<text x="407.00" y="137.50" font-size="4.4" text-anchor="end" fill="#444">3</text>
<text x="412.00" y="133.50" font-size="5.4" text-anchor="middle" font-weight="bold" fill="#222">Ancestral</text>
<text x="446.34" y="161.39" font-size="5.4" text-anchor="start" font-weight="bold" fill="#222">Gamma</text>
<text x="442.48" y="197.61" font-size="5.4" text-anchor="middle" font-weight="bold" fill="#222">Omicron</text>
<text x="442.98" y="203.71" font-size="5.4" text-anchor="middle" font-weight="bold" fill="#222">BA.5</text>
<text x="391.52" y="200.31" font-size="5.4" text-anchor="end" font-weight="bold" fill="#222">XBB.1.18</text>
<text x="377.66" y="161.39" font-size="5.4" text-anchor="end" font-weight="bold" fill="#222">JN.1</text>
<rect x="481.90" y="113.60" width="131.30" height="99.60" stroke="#777" stroke-width="1.1" fill="none"/>
<text x="554.60" y="121.50" font-size="7.0" text-anchor="middle" fill="#222" xml:space="preserve" stroke="#222" stroke-width="0.15">ARVAC  Gamma/XBB.1.5</text>
<polygon points="547.50,164.23 552.89,168.15 550.83,174.48 544.17,174.48 542.11,168.15" stroke="#444" stroke-width="0.65" fill="none" stroke-dasharray="2.2 0.8"/>
<polygon points="547.50,158.57 558.28,166.40 554.16,179.07 540.84,179.07 536.72,166.40" stroke="#444" stroke-width="0.65" fill="none" stroke-dasharray="2.2 0.8"/>
<polygon points="547.50,152.90 563.67,164.65 557.49,183.65 537.51,183.65 531.33,164.65" stroke="#444" stroke-width="0.65" fill="none" stroke-dasharray="2.2 0.8"/>
<polygon points="547.50,147.23 569.06,162.90 560.82,188.24 534.18,188.24 525.94,162.90" stroke="#444" stroke-width="0.65" fill="none" stroke-dasharray="2.2 0.8"/>
<polygon points="547.50,141.57 574.45,161.14 564.15,192.82 530.85,192.82 520.55,161.14" stroke="#444" stroke-width="0.65" fill="none" stroke-dasharray="2.2 0.8"/>
<polygon points="547.50,135.90 579.84,159.39 567.48,197.41 527.52,197.41 515.16,159.39" stroke="#444" stroke-width="0.65" fill="none" stroke-dasharray="2.2 0.8"/>
<polygon points="547.50,145.67 574.48,161.14 558.86,185.53 535.09,186.97 529.23,163.96" stroke="none" stroke-width="1" fill="#87489b" fill-opacity="0.8"/>
<text x="542.50" y="171.50" font-size="4.4" text-anchor="end" fill="#444">0</text>
<text x="542.50" y="165.83" font-size="4.4" text-anchor="end" fill="#444">0.5</text>
<text x="542.50" y="160.17" font-size="4.4" text-anchor="end" fill="#444">1</text>
<text x="542.50" y="154.50" font-size="4.4" text-anchor="end" fill="#444">1.5</text>
<text x="542.50" y="148.83" font-size="4.4" text-anchor="end" fill="#444">2</text>
<text x="542.50" y="143.17" font-size="4.4" text-anchor="end" fill="#444">2.5</text>
<text x="542.50" y="137.50" font-size="4.4" text-anchor="end" fill="#444">3</text>
<text x="547.50" y="133.50" font-size="5.4" text-anchor="middle" font-weight="bold" fill="#222">Ancestral</text>
<text x="581.84" y="161.39" font-size="5.4" text-anchor="start" font-weight="bold" fill="#222">Gamma</text>
<text x="577.98" y="197.61" font-size="5.4" text-anchor="middle" font-weight="bold" fill="#222">Omicron</text>
<text x="578.48" y="203.71" font-size="5.4" text-anchor="middle" font-weight="bold" fill="#222">BA.5</text>
<text x="527.02" y="200.31" font-size="5.4" text-anchor="end" font-weight="bold" fill="#222">XBB.1.18</text>
<text x="513.16" y="161.39" font-size="5.4" text-anchor="end" font-weight="bold" fill="#222">JN.1</text>
<text x="0.40" y="242.20" font-size="17.5" text-anchor="start" font-weight="bold" fill="#111">c</text>
<rect x="16.30" y="251.30" width="157.20" height="144.30" stroke="none" stroke-width="1" fill="#fff"/>
<line x1="30.59" y1="251.30" x2="30.59" y2="395.60" stroke="#ececec" stroke-width="0.8"/>
<line x1="44.88" y1="251.30" x2="44.88" y2="395.60" stroke="#ececec" stroke-width="0.8"/>
<line x1="59.17" y1="251.30" x2="59.17" y2="395.60" stroke="#ececec" stroke-width="0.8"/>
<line x1="73.46" y1="251.30" x2="73.46" y2="395.60" stroke="#ececec" stroke-width="0.8"/>
<line x1="87.75" y1="251.30" x2="87.75" y2="395.60" stroke="#ececec" stroke-width="0.8"/>
<line x1="102.05" y1="251.30" x2="102.05" y2="395.60" stroke="#ececec" stroke-width="0.8"/>
<line x1="116.34" y1="251.30" x2="116.34" y2="395.60" stroke="#ececec" stroke-width="0.8"/>
<line x1="130.63" y1="251.30" x2="130.63" y2="395.60" stroke="#ececec" stroke-width="0.8"/>
<line x1="144.92" y1="251.30" x2="144.92" y2="395.60" stroke="#ececec" stroke-width="0.8"/>
<line x1="159.21" y1="251.30" x2="159.21" y2="395.60" stroke="#ececec" stroke-width="0.8"/>
<line x1="16.30" y1="265.73" x2="173.50" y2="265.73" stroke="#ececec" stroke-width="0.8"/>
<line x1="16.30" y1="280.16" x2="173.50" y2="280.16" stroke="#ececec" stroke-width="0.8"/>
<line x1="16.30" y1="294.59" x2="173.50" y2="294.59" stroke="#ececec" stroke-width="0.8"/>
<line x1="16.30" y1="309.02" x2="173.50" y2="309.02" stroke="#ececec" stroke-width="0.8"/>
<line x1="16.30" y1="323.45" x2="173.50" y2="323.45" stroke="#ececec" stroke-width="0.8"/>
<line x1="16.30" y1="337.88" x2="173.50" y2="337.88" stroke="#ececec" stroke-width="0.8"/>
<line x1="16.30" y1="352.31" x2="173.50" y2="352.31" stroke="#ececec" stroke-width="0.8"/>
<line x1="16.30" y1="366.74" x2="173.50" y2="366.74" stroke="#ececec" stroke-width="0.8"/>
<line x1="16.30" y1="381.17" x2="173.50" y2="381.17" stroke="#ececec" stroke-width="0.8"/>
<rect x="16.30" y="251.30" width="157.20" height="144.30" stroke="#a8a8a8" stroke-width="0.9" fill="none"/>
<rect x="149.30" y="264.60" width="6.60" height="6.60" stroke="#67aedb" stroke-width="0.9" fill="none"/>
<rect x="102.00" y="273.40" width="6.60" height="6.60" stroke="#67aedb" stroke-width="0.9" fill="none"/>
<rect x="95.00" y="298.80" width="6.60" height="6.60" stroke="#67aedb" stroke-width="0.9" fill="none"/>
<rect x="89.70" y="305.50" width="6.60" height="6.60" stroke="#67aedb" stroke-width="0.9" fill="none"/>
<rect x="84.60" y="309.50" width="6.60" height="6.60" stroke="#67aedb" stroke-width="0.9" fill="none"/>
<rect x="79.80" y="314.80" width="6.60" height="6.60" stroke="#67aedb" stroke-width="0.9" fill="none"/>
<rect x="63.80" y="303.60" width="6.60" height="6.60" stroke="#b889cc" stroke-width="0.9" fill="none"/>
<rect x="77.10" y="304.90" width="6.60" height="6.60" stroke="#b889cc" stroke-width="0.9" fill="none"/>
<rect x="56.60" y="310.30" width="6.60" height="6.60" stroke="#b889cc" stroke-width="0.9" fill="none"/>
<rect x="79.00" y="295.60" width="6.60" height="6.60" stroke="#b889cc" stroke-width="0.9" fill="none"/>
<rect x="52.30" y="319.30" width="6.60" height="6.60" stroke="#d9595e" stroke-width="0.9" fill="none"/>
<rect x="57.10" y="319.30" width="6.60" height="6.60" stroke="#d9595e" stroke-width="0.9" fill="none"/>
<rect x="37.10" y="328.20" width="6.60" height="6.60" stroke="#d9595e" stroke-width="0.9" fill="none"/>
<rect x="34.40" y="331.60" width="6.60" height="6.60" stroke="#d9595e" stroke-width="0.9" fill="none"/>
<rect x="43.20" y="331.60" width="6.60" height="6.60" stroke="#d9595e" stroke-width="0.9" fill="none"/>
<rect x="57.60" y="346.30" width="6.60" height="6.60" stroke="#d9595e" stroke-width="0.9" fill="none"/>
<rect x="74.50" y="319.30" width="6.60" height="6.60" stroke="#86c06a" stroke-width="0.9" fill="none"/>
<rect x="66.50" y="326.30" width="6.60" height="6.60" stroke="#86c06a" stroke-width="0.9" fill="none"/>
<rect x="81.10" y="359.70" width="6.60" height="6.60" stroke="#86c06a" stroke-width="0.9" fill="none"/>
<rect x="76.60" y="362.90" width="6.60" height="6.60" stroke="#86c06a" stroke-width="0.9" fill="none"/>
<rect x="87.00" y="370.90" width="6.60" height="6.60" stroke="#86c06a" stroke-width="0.9" fill="none"/>
<rect x="86.00" y="375.40" width="6.60" height="6.60" stroke="#86c06a" stroke-width="0.9" fill="none"/>
<circle cx="75.10" cy="287.40" r="6.4" fill="#5a5a5a"/>
<text x="75.10" y="280.40" font-size="4.2" text-anchor="middle" fill="#222">Ancestral</text>
<circle cx="92.50" cy="292.70" r="6.4" fill="#2020e8"/>
<text x="92.50" y="285.80" font-size="4.2" text-anchor="middle" fill="#222">Gamma</text>
<circle cx="38.20" cy="322.10" r="6.4" fill="#b22a2a"/>
<text x="38.20" y="315.60" font-size="4.2" text-anchor="middle" fill="#222">XBB 1.18</text>
<circle cx="62.30" cy="333.60" r="6.4" fill="#8e3cb8"/>
<text x="62.30" y="326.40" font-size="4.2" text-anchor="middle" fill="#222">JN.1</text>
<circle cx="75.60" cy="338.10" r="6.4" fill="#3a9a3a"/>
<text x="75.60" y="331.60" font-size="4.2" text-anchor="middle" fill="#222">Omicron BA.5</text>
<rect x="74.50" y="281.40" width="6.60" height="6.60" stroke="#b889cc" stroke-width="0.9" fill="none"/>
<rect x="87.00" y="286.20" width="6.60" height="6.60" stroke="#b889cc" stroke-width="0.9" fill="none"/>
<text x="184.30" y="268.70" font-size="6.95" text-anchor="start" font-weight="bold" fill="#111">SARS-CoV-2 Variants</text>
<circle cx="184.2" cy="275.50" r="2.9" fill="#5a5a5a"/>
<text x="193.80" y="277.80" font-size="6.3" text-anchor="start" fill="#333">Ancestral</text>
<circle cx="184.2" cy="285.90" r="2.9" fill="#2020e8"/>
<text x="193.80" y="288.20" font-size="6.3" text-anchor="start" fill="#333">Gamma</text>
<circle cx="184.2" cy="296.30" r="2.9" fill="#3a9a3a"/>
<text x="193.80" y="298.60" font-size="6.3" text-anchor="start" fill="#333">Omicron BA.5</text>
<circle cx="184.2" cy="306.70" r="2.9" fill="#b22a2a"/>
<text x="193.80" y="309.00" font-size="6.3" text-anchor="start" fill="#333">XBB 1.18</text>
<circle cx="184.2" cy="317.10" r="2.9" fill="#8e3cb8"/>
<text x="193.80" y="319.40" font-size="6.3" text-anchor="start" fill="#333">JN.1</text>
<text x="184.30" y="338.50" font-size="6.95" text-anchor="start" font-weight="bold" fill="#111">Vaccine Groups</text>
<rect x="181.30" y="343.90" width="5.40" height="5.40" stroke="#d9595e" stroke-width="0.9" fill="none"/>
<text x="193.80" y="348.90" font-size="6.3" text-anchor="start" fill="#333">ARVAC XBB.1.5</text>
<rect x="181.30" y="355.60" width="5.40" height="5.40" stroke="#86c06a" stroke-width="0.9" fill="none"/>
<text x="193.80" y="360.60" font-size="6.3" text-anchor="start" fill="#333">ARVAC BA.4/5</text>
<rect x="181.30" y="367.30" width="5.40" height="5.40" stroke="#67aedb" stroke-width="0.9" fill="none"/>
<text x="193.80" y="372.30" font-size="6.3" text-anchor="start" fill="#333">ARVAC Gamma/BA.4/5</text>
<rect x="181.30" y="379.00" width="5.40" height="5.40" stroke="#b889cc" stroke-width="0.9" fill="none"/>
<text x="193.80" y="384.00" font-size="6.3" text-anchor="start" fill="#333">ARVAC Gamma/XBB.1.5</text>
<text x="280.00" y="242.30" font-size="17" text-anchor="start" font-weight="bold" fill="#111">d</text>
<text x="355.70" y="232.60" font-size="8.7" text-anchor="middle" font-weight="bold" fill="#111">IFN-γ</text>
<line x1="308.50" y1="249.50" x2="308.50" y2="344.00" stroke="#222" stroke-width="1.3"/>
<line x1="305.20" y1="343.40" x2="308.50" y2="343.40" stroke="#222" stroke-width="1.1"/>
<text x="303.90" y="346.10" font-size="7.6" text-anchor="end" fill="#1a1a1a">0</text>
<line x1="305.20" y1="319.90" x2="308.50" y2="319.90" stroke="#222" stroke-width="1.1"/>
<text x="303.90" y="322.60" font-size="7.6" text-anchor="end" fill="#1a1a1a">1</text>
<line x1="305.20" y1="296.40" x2="308.50" y2="296.40" stroke="#222" stroke-width="1.1"/>
<text x="303.90" y="299.10" font-size="7.6" text-anchor="end" fill="#1a1a1a">2</text>
<line x1="305.20" y1="272.90" x2="308.50" y2="272.90" stroke="#222" stroke-width="1.1"/>
<text x="303.90" y="275.60" font-size="7.6" text-anchor="end" fill="#1a1a1a">3</text>
<line x1="305.20" y1="249.40" x2="308.50" y2="249.40" stroke="#222" stroke-width="1.1"/>
<text x="303.90" y="252.10" font-size="7.6" text-anchor="end" fill="#1a1a1a">4</text>
<line x1="307.90" y1="343.40" x2="402.60" y2="343.40" stroke="#222" stroke-width="1.4"/>
<text x="286.30" y="296.40" font-size="6.8" text-anchor="middle" fill="#1a1a1a" transform="rotate(-90 286.30 296.40)">CD4<tspan dy="-2.6" font-size="4.6">+</tspan><tspan dy="2.6"> IFN-γ</tspan><tspan dy="-2.6" font-size="4.6">+</tspan></text>
<text x="293.30" y="296.10" font-size="6.8" text-anchor="middle" fill="#1a1a1a" transform="rotate(-90 293.30 296.10)">(% of CD4<tspan dy="-2.6" font-size="4.6">+</tspan><tspan dy="2.6">)</tspan></text>
<line x1="320.00" y1="279.25" x2="320.00" y2="297.10" stroke="#b84a4a" stroke-width="1.1"/>
<line x1="317.80" y1="279.25" x2="322.20" y2="279.25" stroke="#b84a4a" stroke-width="1.1"/>
<line x1="317.80" y1="297.10" x2="322.20" y2="297.10" stroke="#b84a4a" stroke-width="1.1"/>
<rect x="314.90" y="288.17" width="10.20" height="55.23" stroke="#b84a4a" stroke-width="1.2" fill="none"/>
<circle cx="321.00" cy="254.10" r="1.9" fill="#b84a4a"/>
<circle cx="317.40" cy="291.70" r="1.9" fill="#b84a4a"/>
<circle cx="322.60" cy="290.52" r="1.9" fill="#b84a4a"/>
<circle cx="320.00" cy="296.40" r="1.9" fill="#b84a4a"/>
<circle cx="317.40" cy="301.10" r="1.9" fill="#b84a4a"/>
<circle cx="322.60" cy="301.10" r="1.9" fill="#b84a4a"/>
<line x1="337.90" y1="295.22" x2="337.90" y2="306.97" stroke="#3c9a3c" stroke-width="1.1"/>
<line x1="335.70" y1="295.22" x2="340.10" y2="295.22" stroke="#3c9a3c" stroke-width="1.1"/>
<line x1="335.70" y1="306.97" x2="340.10" y2="306.97" stroke="#3c9a3c" stroke-width="1.1"/>
<rect x="332.80" y="301.10" width="10.20" height="42.30" stroke="#3c9a3c" stroke-width="1.2" fill="none"/>
<circle cx="337.90" cy="279.95" r="1.9" fill="#3c9a3c"/>
<circle cx="335.30" cy="305.33" r="1.9" fill="#3c9a3c"/>
<circle cx="337.90" cy="308.85" r="1.9" fill="#3c9a3c"/>
<circle cx="335.30" cy="310.50" r="1.9" fill="#3c9a3c"/>
<circle cx="340.50" cy="308.85" r="1.9" fill="#3c9a3c"/>
<line x1="355.50" y1="280.42" x2="355.50" y2="305.33" stroke="#2a2aa8" stroke-width="1.1"/>
<line x1="353.30" y1="280.42" x2="357.70" y2="280.42" stroke="#2a2aa8" stroke-width="1.1"/>
<line x1="353.30" y1="305.33" x2="357.70" y2="305.33" stroke="#2a2aa8" stroke-width="1.1"/>
<rect x="350.40" y="292.88" width="10.20" height="50.52" stroke="#2a2aa8" stroke-width="1.2" fill="none"/>
<circle cx="355.50" cy="271.25" r="1.9" fill="#2a2aa8"/>
<circle cx="355.50" cy="292.88" r="1.9" fill="#2a2aa8"/>
<circle cx="355.50" cy="314.02" r="1.9" fill="#2a2aa8"/>
<line x1="372.90" y1="315.67" x2="372.90" y2="328.83" stroke="#8a2fc8" stroke-width="1.1"/>
<line x1="370.70" y1="315.67" x2="375.10" y2="315.67" stroke="#8a2fc8" stroke-width="1.1"/>
<line x1="370.70" y1="328.83" x2="375.10" y2="328.83" stroke="#8a2fc8" stroke-width="1.1"/>
<rect x="367.80" y="322.25" width="10.20" height="21.15" stroke="#8a2fc8" stroke-width="1.2" fill="none"/>
<circle cx="372.90" cy="302.75" r="1.9" fill="#8a2fc8"/>
<circle cx="372.90" cy="310.97" r="1.9" fill="#8a2fc8"/>
<circle cx="372.90" cy="316.38" r="1.9" fill="#8a2fc8"/>
<circle cx="372.90" cy="326.25" r="1.9" fill="#8a2fc8"/>
<circle cx="370.30" cy="339.17" r="1.9" fill="#8a2fc8"/>
<circle cx="375.50" cy="339.17" r="1.9" fill="#8a2fc8"/>
<circle cx="387.00" cy="342.50" r="1.5" fill="#111"/>
<circle cx="389.00" cy="341.20" r="1.5" fill="#111"/>
<circle cx="391.00" cy="342.50" r="1.5" fill="#111"/>
<circle cx="393.00" cy="342.50" r="1.5" fill="#111"/>
<circle cx="394.70" cy="342.50" r="1.5" fill="#111"/>
<line x1="320.00" y1="343.40" x2="320.00" y2="346.70" stroke="#222" stroke-width="1.1"/>
<line x1="337.90" y1="343.40" x2="337.90" y2="346.70" stroke="#222" stroke-width="1.1"/>
<line x1="355.50" y1="343.40" x2="355.50" y2="346.70" stroke="#222" stroke-width="1.1"/>
<line x1="372.90" y1="343.40" x2="372.90" y2="346.70" stroke="#222" stroke-width="1.1"/>
<line x1="390.50" y1="343.40" x2="390.50" y2="346.70" stroke="#222" stroke-width="1.1"/>
<text x="322.40" y="354.40" font-size="6.6" text-anchor="end" fill="#1a1a1a" transform="rotate(-45 322.40 354.40)" xml:space="preserve">ARVAC XBB.1.5</text>
<text x="340.30" y="354.40" font-size="6.6" text-anchor="end" fill="#1a1a1a" transform="rotate(-45 340.30 354.40)" xml:space="preserve">ARVAC Omicron BA.4/5</text>
<text x="357.90" y="354.40" font-size="6.6" text-anchor="end" fill="#1a1a1a" transform="rotate(-45 357.90 354.40)" xml:space="preserve">ARVAC Gamma/Omicron BA.4/5</text>
<text x="375.30" y="354.40" font-size="6.6" text-anchor="end" fill="#1a1a1a" transform="rotate(-45 375.30 354.40)" xml:space="preserve">ARVAC  Gamma /XBB.1.5</text>
<text x="392.90" y="354.40" font-size="6.6" text-anchor="end" fill="#1a1a1a" transform="rotate(-45 392.90 354.40)" xml:space="preserve">Placebo</text>
<polyline points="323.40,254.00 323.40,251.30 392.00,251.30 392.00,323.00" stroke="#555" stroke-width="1.4" fill="none"/>
<polygon points="346.20,243.70 346.92,245.61 348.96,245.70 347.36,246.98 347.90,248.95 346.20,247.82 344.50,248.95 345.04,246.98 343.44,245.70 345.48,245.61" stroke="none" stroke-width="1" fill="#222"/>
<polygon points="353.20,243.70 353.92,245.61 355.96,245.70 354.36,246.98 354.90,248.95 353.20,247.82 351.50,248.95 352.04,246.98 350.44,245.70 352.48,245.61" stroke="none" stroke-width="1" fill="#222"/>
<polyline points="337.90,268.40 337.90,260.60 392.00,260.60" stroke="#555" stroke-width="1.4" fill="none"/>
<line x1="355.30" y1="260.60" x2="355.30" y2="267.30" stroke="#555" stroke-width="1.4"/>
<polygon points="361.70,254.40 362.42,256.31 364.46,256.40 362.86,257.68 363.40,259.65 361.70,258.52 360.00,259.65 360.54,257.68 358.94,256.40 360.98,256.31" stroke="none" stroke-width="1" fill="#222"/>
<polyline points="372.80,285.60 372.80,278.00 392.00,278.00" stroke="#555" stroke-width="1.4" fill="none"/>
<polygon points="382.40,271.10 383.12,273.01 385.16,273.10 383.56,274.38 384.10,276.35 382.40,275.22 380.70,276.35 381.24,274.38 379.64,273.10 381.68,273.01" stroke="none" stroke-width="1" fill="#222"/>
<text x="478.20" y="232.60" font-size="9" text-anchor="middle" font-weight="bold" fill="#111">TNF-α</text>
<line x1="431.70" y1="249.50" x2="431.70" y2="344.00" stroke="#222" stroke-width="1.3"/>
<line x1="427.30" y1="343.40" x2="431.70" y2="343.40" stroke="#222" stroke-width="1.1"/>
<text x="426.10" y="345.80" font-size="6.6" text-anchor="end" fill="#1a1a1a">0</text>
<line x1="427.30" y1="305.84" x2="431.70" y2="305.84" stroke="#222" stroke-width="1.1"/>
<text x="426.10" y="308.24" font-size="6.6" text-anchor="end" fill="#1a1a1a">2</text>
<line x1="427.30" y1="268.28" x2="431.70" y2="268.28" stroke="#222" stroke-width="1.1"/>
<text x="426.10" y="270.68" font-size="6.6" text-anchor="end" fill="#1a1a1a">4</text>
<line x1="431.10" y1="343.40" x2="525.00" y2="343.40" stroke="#222" stroke-width="1.4"/>
<text x="408.30" y="297.20" font-size="6.8" text-anchor="middle" fill="#1a1a1a" transform="rotate(-90 408.30 297.20)">CD4<tspan dy="-2.6" font-size="4.6">+</tspan><tspan dy="2.6"> TNF-α</tspan><tspan dy="-2.6" font-size="4.6">+</tspan></text>
<text x="415.30" y="296.80" font-size="6.8" text-anchor="middle" fill="#1a1a1a" transform="rotate(-90 415.30 296.80)">(% of CD4<tspan dy="-2.6" font-size="4.6">+</tspan><tspan dy="2.6">)</tspan></text>
<line x1="442.90" y1="272.79" x2="442.90" y2="283.68" stroke="#b84a4a" stroke-width="1.1"/>
<line x1="440.70" y1="272.79" x2="445.10" y2="272.79" stroke="#b84a4a" stroke-width="1.1"/>
<line x1="440.70" y1="283.68" x2="445.10" y2="283.68" stroke="#b84a4a" stroke-width="1.1"/>
<rect x="437.80" y="278.23" width="10.20" height="65.17" stroke="#b84a4a" stroke-width="1.2" fill="none"/>
<circle cx="442.90" cy="258.89" r="1.9" fill="#b84a4a"/>
<circle cx="442.90" cy="278.61" r="1.9" fill="#b84a4a"/>
<circle cx="445.50" cy="287.06" r="1.9" fill="#b84a4a"/>
<circle cx="440.30" cy="289.88" r="1.9" fill="#b84a4a"/>
<circle cx="445.50" cy="289.88" r="1.9" fill="#b84a4a"/>
<line x1="460.70" y1="282.36" x2="460.70" y2="296.64" stroke="#3c9a3c" stroke-width="1.1"/>
<line x1="458.50" y1="282.36" x2="462.90" y2="282.36" stroke="#3c9a3c" stroke-width="1.1"/>
<line x1="458.50" y1="296.64" x2="462.90" y2="296.64" stroke="#3c9a3c" stroke-width="1.1"/>
<rect x="455.60" y="289.50" width="10.20" height="53.90" stroke="#3c9a3c" stroke-width="1.2" fill="none"/>
<circle cx="460.70" cy="269.22" r="1.9" fill="#3c9a3c"/>
<circle cx="460.70" cy="280.49" r="1.9" fill="#3c9a3c"/>
<circle cx="460.70" cy="291.75" r="1.9" fill="#3c9a3c"/>
<circle cx="460.70" cy="296.45" r="1.9" fill="#3c9a3c"/>
<circle cx="460.70" cy="306.40" r="1.9" fill="#3c9a3c"/>
<line x1="478.10" y1="261.33" x2="478.10" y2="287.62" stroke="#2a2aa8" stroke-width="1.1"/>
<line x1="475.90" y1="261.33" x2="480.30" y2="261.33" stroke="#2a2aa8" stroke-width="1.1"/>
<line x1="475.90" y1="287.62" x2="480.30" y2="287.62" stroke="#2a2aa8" stroke-width="1.1"/>
<rect x="473.00" y="274.48" width="10.20" height="68.92" stroke="#2a2aa8" stroke-width="1.2" fill="none"/>
<circle cx="478.10" cy="256.07" r="1.9" fill="#2a2aa8"/>
<circle cx="478.10" cy="266.40" r="1.9" fill="#2a2aa8"/>
<circle cx="478.10" cy="299.64" r="1.9" fill="#2a2aa8"/>
<line x1="495.90" y1="298.89" x2="495.90" y2="312.04" stroke="#8a2fc8" stroke-width="1.1"/>
<line x1="493.70" y1="298.89" x2="498.10" y2="298.89" stroke="#8a2fc8" stroke-width="1.1"/>
<line x1="493.70" y1="312.04" x2="498.10" y2="312.04" stroke="#8a2fc8" stroke-width="1.1"/>
<rect x="490.80" y="305.46" width="10.20" height="37.94" stroke="#8a2fc8" stroke-width="1.2" fill="none"/>
<circle cx="495.90" cy="288.00" r="1.9" fill="#8a2fc8"/>
<circle cx="495.90" cy="294.57" r="1.9" fill="#8a2fc8"/>
<circle cx="495.90" cy="306.78" r="1.9" fill="#8a2fc8"/>
<circle cx="495.90" cy="310.53" r="1.9" fill="#8a2fc8"/>
<circle cx="495.90" cy="325.18" r="1.9" fill="#8a2fc8"/>
<circle cx="509.00" cy="342.80" r="1.4" fill="#111"/>
<circle cx="511.30" cy="342.80" r="1.4" fill="#111"/>
<circle cx="513.50" cy="342.80" r="1.4" fill="#111"/>
<circle cx="515.70" cy="342.80" r="1.4" fill="#111"/>
<circle cx="518.00" cy="342.80" r="1.4" fill="#111"/>
<line x1="442.90" y1="343.40" x2="442.90" y2="346.70" stroke="#222" stroke-width="1.1"/>
<line x1="460.70" y1="343.40" x2="460.70" y2="346.70" stroke="#222" stroke-width="1.1"/>
<line x1="478.10" y1="343.40" x2="478.10" y2="346.70" stroke="#222" stroke-width="1.1"/>
<line x1="495.90" y1="343.40" x2="495.90" y2="346.70" stroke="#222" stroke-width="1.1"/>
<line x1="513.50" y1="343.40" x2="513.50" y2="346.70" stroke="#222" stroke-width="1.1"/>
<text x="445.30" y="354.40" font-size="6.6" text-anchor="end" fill="#1a1a1a" transform="rotate(-45 445.30 354.40)">ARVAC XBB.1.5</text>
<text x="463.10" y="354.40" font-size="6.6" text-anchor="end" fill="#1a1a1a" transform="rotate(-45 463.10 354.40)">ARVAC Omicron BA.4/5</text>
<text x="480.50" y="354.40" font-size="6.6" text-anchor="end" fill="#1a1a1a" transform="rotate(-45 480.50 354.40)">ARVAC Gamma /BA.4.5</text>
<text x="498.30" y="354.40" font-size="6.6" text-anchor="end" fill="#1a1a1a" transform="rotate(-45 498.30 354.40)">ARVAC Gamma /XBB.1.5</text>
<text x="515.90" y="354.40" font-size="6.6" text-anchor="end" fill="#1a1a1a" transform="rotate(-45 515.90 354.40)">Placebo</text>
<polyline points="442.90,253.90 442.90,246.10 517.40,246.10 517.40,316.30" stroke="#555" stroke-width="1.4" fill="none"/>
<line x1="460.70" y1="246.10" x2="460.70" y2="253.90" stroke="#555" stroke-width="1.4"/>
<line x1="478.10" y1="246.10" x2="478.10" y2="253.90" stroke="#555" stroke-width="1.4"/>
<polygon points="478.30,238.80 479.02,240.71 481.06,240.80 479.46,242.08 480.00,244.05 478.30,242.92 476.60,244.05 477.14,242.08 475.54,240.80 477.58,240.71" stroke="none" stroke-width="1" fill="#222"/>
<polygon points="485.30,238.80 486.02,240.71 488.06,240.80 486.46,242.08 487.00,244.05 485.30,242.92 483.60,244.05 484.14,242.08 482.54,240.80 484.58,240.71" stroke="none" stroke-width="1" fill="#222"/>
<polyline points="495.60,281.10 495.60,275.80 517.40,275.80" stroke="#555" stroke-width="1.4" fill="none"/>
<polygon points="508.50,268.80 509.22,270.71 511.26,270.80 509.66,272.08 510.20,274.05 508.50,272.92 506.80,274.05 507.34,272.08 505.74,270.80 507.78,270.71" stroke="none" stroke-width="1" fill="#222"/>
<text x="536.60" y="242.30" font-size="18" text-anchor="start" font-weight="bold" fill="#111">e</text>
<text x="616.60" y="234.30" font-size="8.0" text-anchor="middle" font-weight="bold" fill="#111">IL-5</text>
<text x="616.60" y="243.40" font-size="7.6" text-anchor="middle" font-weight="bold" fill="#111">splenocytes</text>
<line x1="568.90" y1="249.00" x2="568.90" y2="343.80" stroke="#222" stroke-width="1.3"/>
<line x1="565.90" y1="343.20" x2="568.90" y2="343.20" stroke="#222" stroke-width="1.1"/>
<text x="564.90" y="345.30" font-size="5.8" text-anchor="end" fill="#222">500</text>
<line x1="565.90" y1="311.70" x2="568.90" y2="311.70" stroke="#222" stroke-width="1.1"/>
<text x="564.90" y="313.80" font-size="5.8" text-anchor="end" fill="#222">1000</text>
<line x1="565.90" y1="280.20" x2="568.90" y2="280.20" stroke="#222" stroke-width="1.1"/>
<text x="564.90" y="282.30" font-size="5.8" text-anchor="end" fill="#222">1500</text>
<line x1="565.90" y1="248.70" x2="568.90" y2="248.70" stroke="#222" stroke-width="1.1"/>
<text x="564.90" y="250.80" font-size="5.8" text-anchor="end" fill="#222">2000</text>
<line x1="568.30" y1="343.20" x2="664.00" y2="343.20" stroke="#222" stroke-width="1.4"/>
<text x="547.80" y="295.80" font-size="5.85" text-anchor="middle" font-weight="bold" fill="#1a1a1a" transform="rotate(-90 547.80 295.80)">IL-5 pg/ml</text>
<line x1="576.40" y1="332.49" x2="576.40" y2="335.01" stroke="#b02e2e" stroke-width="1.1"/>
<line x1="574.80" y1="332.49" x2="578.00" y2="332.49" stroke="#b02e2e" stroke-width="1.1"/>
<line x1="574.80" y1="335.01" x2="578.00" y2="335.01" stroke="#b02e2e" stroke-width="1.1"/>
<rect x="573.50" y="333.75" width="5.80" height="9.45" stroke="#b02e2e" stroke-width="1.2" fill="none"/>
<circle cx="576.40" cy="333.12" r="1.55" fill="#b02e2e"/>
<circle cx="574.40" cy="334.38" r="1.55" fill="#b02e2e"/>
<circle cx="578.40" cy="335.01" r="1.55" fill="#b02e2e"/>
<circle cx="574.40" cy="333.75" r="1.55" fill="#b02e2e"/>
<circle cx="578.40" cy="335.64" r="1.55" fill="#b02e2e"/>
<line x1="586.20" y1="308.87" x2="586.20" y2="320.20" stroke="#b02e2e" stroke-width="1.1"/>
<line x1="584.60" y1="308.87" x2="587.80" y2="308.87" stroke="#b02e2e" stroke-width="1.1"/>
<line x1="584.60" y1="320.20" x2="587.80" y2="320.20" stroke="#b02e2e" stroke-width="1.1"/>
<rect x="583.30" y="314.53" width="5.80" height="28.67" stroke="#b02e2e" stroke-width="1.2" fill="none"/>
<circle cx="586.20" cy="295.32" r="1.55" fill="#b02e2e"/>
<circle cx="586.20" cy="307.29" r="1.55" fill="#b02e2e"/>
<circle cx="586.20" cy="311.70" r="1.55" fill="#b02e2e"/>
<circle cx="586.20" cy="320.52" r="1.55" fill="#b02e2e"/>
<circle cx="586.20" cy="325.56" r="1.55" fill="#b02e2e"/>
<line x1="599.75" y1="331.23" x2="599.75" y2="333.75" stroke="#3c9a3c" stroke-width="1.1"/>
<line x1="598.15" y1="331.23" x2="601.35" y2="331.23" stroke="#3c9a3c" stroke-width="1.1"/>
<line x1="598.15" y1="333.75" x2="601.35" y2="333.75" stroke="#3c9a3c" stroke-width="1.1"/>
<rect x="596.85" y="332.49" width="5.80" height="10.71" stroke="#3c9a3c" stroke-width="1.2" fill="none"/>
<circle cx="599.75" cy="328.08" r="1.55" fill="#3c9a3c"/>
<circle cx="597.75" cy="330.60" r="1.55" fill="#3c9a3c"/>
<circle cx="601.75" cy="331.86" r="1.55" fill="#3c9a3c"/>
<circle cx="597.75" cy="333.75" r="1.55" fill="#3c9a3c"/>
<circle cx="601.75" cy="335.01" r="1.55" fill="#3c9a3c"/>
<line x1="609.55" y1="303.51" x2="609.55" y2="316.11" stroke="#3c9a3c" stroke-width="1.1"/>
<line x1="607.95" y1="303.51" x2="611.15" y2="303.51" stroke="#3c9a3c" stroke-width="1.1"/>
<line x1="607.95" y1="316.11" x2="611.15" y2="316.11" stroke="#3c9a3c" stroke-width="1.1"/>
<rect x="606.65" y="309.81" width="5.80" height="33.39" stroke="#3c9a3c" stroke-width="1.2" fill="none"/>
<circle cx="609.55" cy="288.39" r="1.55" fill="#3c9a3c"/>
<circle cx="609.55" cy="291.54" r="1.55" fill="#3c9a3c"/>
<circle cx="609.55" cy="311.70" r="1.55" fill="#3c9a3c"/>
<circle cx="609.55" cy="314.85" r="1.55" fill="#3c9a3c"/>
<circle cx="609.55" cy="327.45" r="1.55" fill="#3c9a3c"/>
<line x1="623.10" y1="330.91" x2="623.10" y2="333.44" stroke="#2a2ad8" stroke-width="1.1"/>
<line x1="621.50" y1="330.91" x2="624.70" y2="330.91" stroke="#2a2ad8" stroke-width="1.1"/>
<line x1="621.50" y1="333.44" x2="624.70" y2="333.44" stroke="#2a2ad8" stroke-width="1.1"/>
<rect x="620.20" y="332.18" width="5.80" height="11.02" stroke="#2a2ad8" stroke-width="1.2" fill="none"/>
<circle cx="623.10" cy="326.82" r="1.55" fill="#2a2ad8"/>
<circle cx="621.10" cy="328.08" r="1.55" fill="#2a2ad8"/>
<circle cx="625.10" cy="331.23" r="1.55" fill="#2a2ad8"/>
<circle cx="621.10" cy="333.12" r="1.55" fill="#2a2ad8"/>
<circle cx="625.10" cy="335.01" r="1.55" fill="#2a2ad8"/>
<line x1="632.90" y1="278.31" x2="632.90" y2="303.51" stroke="#2a2ad8" stroke-width="1.1"/>
<line x1="631.30" y1="278.31" x2="634.50" y2="278.31" stroke="#2a2ad8" stroke-width="1.1"/>
<line x1="631.30" y1="303.51" x2="634.50" y2="303.51" stroke="#2a2ad8" stroke-width="1.1"/>
<rect x="630.00" y="290.91" width="5.80" height="52.29" stroke="#2a2ad8" stroke-width="1.2" fill="none"/>
<circle cx="632.90" cy="275.16" r="1.55" fill="#2a2ad8"/>
<circle cx="632.90" cy="311.70" r="1.55" fill="#2a2ad8"/>
<circle cx="632.90" cy="313.59" r="1.55" fill="#2a2ad8"/>
<circle cx="632.90" cy="314.22" r="1.55" fill="#2a2ad8"/>
<circle cx="632.90" cy="319.26" r="1.55" fill="#2a2ad8"/>
<line x1="646.45" y1="332.49" x2="646.45" y2="335.01" stroke="#8a2fc8" stroke-width="1.1"/>
<line x1="644.85" y1="332.49" x2="648.05" y2="332.49" stroke="#8a2fc8" stroke-width="1.1"/>
<line x1="644.85" y1="335.01" x2="648.05" y2="335.01" stroke="#8a2fc8" stroke-width="1.1"/>
<rect x="643.55" y="333.75" width="5.80" height="9.45" stroke="#8a2fc8" stroke-width="1.2" fill="none"/>
<circle cx="646.45" cy="331.23" r="1.55" fill="#8a2fc8"/>
<circle cx="644.45" cy="333.12" r="1.55" fill="#8a2fc8"/>
<circle cx="648.45" cy="334.38" r="1.55" fill="#8a2fc8"/>
<circle cx="644.45" cy="335.01" r="1.55" fill="#8a2fc8"/>
<circle cx="648.45" cy="335.64" r="1.55" fill="#8a2fc8"/>
<line x1="656.25" y1="274.21" x2="656.25" y2="299.41" stroke="#8a2fc8" stroke-width="1.1"/>
<line x1="654.65" y1="274.21" x2="657.85" y2="274.21" stroke="#8a2fc8" stroke-width="1.1"/>
<line x1="654.65" y1="299.41" x2="657.85" y2="299.41" stroke="#8a2fc8" stroke-width="1.1"/>
<rect x="653.35" y="286.81" width="5.80" height="56.38" stroke="#8a2fc8" stroke-width="1.2" fill="none"/>
<circle cx="656.25" cy="274.53" r="1.55" fill="#8a2fc8"/>
<circle cx="656.25" cy="280.20" r="1.55" fill="#8a2fc8"/>
<circle cx="656.25" cy="308.55" r="1.55" fill="#8a2fc8"/>
<circle cx="656.25" cy="317.37" r="1.55" fill="#8a2fc8"/>
<line x1="576.40" y1="343.20" x2="576.40" y2="346.20" stroke="#222" stroke-width="1.1"/>
<text x="578.40" y="352.10" font-size="5.5" text-anchor="end" fill="#222" transform="rotate(-45 578.40 352.10)">Medium</text>
<line x1="586.20" y1="343.20" x2="586.20" y2="346.20" stroke="#222" stroke-width="1.1"/>
<text x="588.20" y="352.10" font-size="5.5" text-anchor="end" fill="#222" transform="rotate(-45 588.20 352.10)">RBD</text>
<line x1="599.75" y1="343.20" x2="599.75" y2="346.20" stroke="#222" stroke-width="1.1"/>
<text x="601.75" y="352.10" font-size="5.5" text-anchor="end" fill="#222" transform="rotate(-45 601.75 352.10)">Medium</text>
<line x1="609.55" y1="343.20" x2="609.55" y2="346.20" stroke="#222" stroke-width="1.1"/>
<text x="611.55" y="352.10" font-size="5.5" text-anchor="end" fill="#222" transform="rotate(-45 611.55 352.10)">RBD</text>
<line x1="623.10" y1="343.20" x2="623.10" y2="346.20" stroke="#222" stroke-width="1.1"/>
<text x="625.10" y="352.10" font-size="5.5" text-anchor="end" fill="#222" transform="rotate(-45 625.10 352.10)">Medium</text>
<line x1="632.90" y1="343.20" x2="632.90" y2="346.20" stroke="#222" stroke-width="1.1"/>
<text x="634.90" y="352.10" font-size="5.5" text-anchor="end" fill="#222" transform="rotate(-45 634.90 352.10)">RBD</text>
<line x1="646.45" y1="343.20" x2="646.45" y2="346.20" stroke="#222" stroke-width="1.1"/>
<text x="648.45" y="352.10" font-size="5.5" text-anchor="end" fill="#222" transform="rotate(-45 648.45 352.10)">Medium</text>
<line x1="656.25" y1="343.20" x2="656.25" y2="346.20" stroke="#222" stroke-width="1.1"/>
<text x="658.25" y="352.10" font-size="5.5" text-anchor="end" fill="#222" transform="rotate(-45 658.25 352.10)">RBD</text>
<line x1="574.40" y1="291.60" x2="587.00" y2="291.60" stroke="#222" stroke-width="1.4"/>
<polygon points="580.80,284.70 581.52,286.61 583.56,286.70 581.96,287.98 582.50,289.95 580.80,288.82 579.10,289.95 579.64,287.98 578.04,286.70 580.08,286.61" stroke="none" stroke-width="1" fill="#222"/>
<line x1="597.75" y1="284.60" x2="610.35" y2="284.60" stroke="#222" stroke-width="1.4"/>
<polygon points="604.15,277.70 604.87,279.61 606.91,279.70 605.31,280.98 605.85,282.95 604.15,281.82 602.45,282.95 602.99,280.98 601.39,279.70 603.43,279.61" stroke="none" stroke-width="1" fill="#222"/>
<line x1="621.10" y1="270.50" x2="633.70" y2="270.50" stroke="#222" stroke-width="1.4"/>
<polygon points="624.00,263.60 624.72,265.51 626.76,265.60 625.16,266.88 625.70,268.85 624.00,267.72 622.30,268.85 622.84,266.88 621.24,265.60 623.28,265.51" stroke="none" stroke-width="1" fill="#222"/>
<polygon points="631.00,263.60 631.72,265.51 633.76,265.60 632.16,266.88 632.70,268.85 631.00,267.72 629.30,268.85 629.84,266.88 628.24,265.60 630.28,265.51" stroke="none" stroke-width="1" fill="#222"/>
<line x1="644.45" y1="270.50" x2="657.05" y2="270.50" stroke="#222" stroke-width="1.4"/>
<polygon points="647.35,263.60 648.07,265.51 650.11,265.60 648.51,266.88 649.05,268.85 647.35,267.72 645.65,268.85 646.19,266.88 644.59,265.60 646.63,265.51" stroke="none" stroke-width="1" fill="#222"/>
<polygon points="654.35,263.60 655.07,265.51 657.11,265.60 655.51,266.88 656.05,268.85 654.35,267.72 652.65,268.85 653.19,266.88 651.59,265.60 653.63,265.51" stroke="none" stroke-width="1" fill="#222"/>
<circle cx="569.40" cy="375.10" r="1.5" fill="#b02e2e"/>
<text x="579.90" y="377.60" font-size="7.0" text-anchor="start" fill="#222">ARVAC XBB.1.5</text>
<circle cx="569.40" cy="383.20" r="1.5" fill="#3c9a3c"/>
<text x="579.90" y="385.70" font-size="7.0" text-anchor="start" fill="#222">ARVAC Omicron BA.4/5</text>
<circle cx="569.40" cy="391.30" r="1.5" fill="#2a2ad8"/>
<text x="579.90" y="393.80" font-size="7.0" text-anchor="start" fill="#222">ARVAC Gamma/ Omicron BA.4/5</text>
<circle cx="569.40" cy="399.40" r="1.5" fill="#8a2fc8"/>
<text x="579.90" y="401.90" font-size="7.0" text-anchor="start" fill="#222">ARVAC Gamma/XBB.1.5</text>
<text x="1.10" y="431.00" font-size="17" text-anchor="start" font-weight="bold" fill="#111">f</text>
<text x="86.80" y="427.40" font-size="9.0" text-anchor="middle" font-weight="bold" fill="#111">IFN-γ</text>
<text x="86.80" y="435.70" font-size="6.75" text-anchor="middle" font-weight="bold" fill="#111">Lung cells</text>
<line x1="39.60" y1="441.50" x2="39.60" y2="535.70" stroke="#222" stroke-width="1.3"/>
<line x1="36.60" y1="535.10" x2="39.60" y2="535.10" stroke="#222" stroke-width="1.1"/>
<text x="35.00" y="537.50" font-size="6.7" text-anchor="end" fill="#1a1a1a">0</text>
<line x1="36.60" y1="511.70" x2="39.60" y2="511.70" stroke="#222" stroke-width="1.1"/>
<text x="35.00" y="514.10" font-size="6.7" text-anchor="end" fill="#1a1a1a">2000</text>
<line x1="36.60" y1="488.30" x2="39.60" y2="488.30" stroke="#222" stroke-width="1.1"/>
<text x="35.00" y="490.70" font-size="6.7" text-anchor="end" fill="#1a1a1a">4000</text>
<line x1="36.60" y1="464.90" x2="39.60" y2="464.90" stroke="#222" stroke-width="1.1"/>
<text x="35.00" y="467.30" font-size="6.7" text-anchor="end" fill="#1a1a1a">6000</text>
<line x1="36.60" y1="441.50" x2="39.60" y2="441.50" stroke="#222" stroke-width="1.1"/>
<text x="35.00" y="443.90" font-size="6.7" text-anchor="end" fill="#1a1a1a">8000</text>
<line x1="39.00" y1="535.10" x2="134.00" y2="535.10" stroke="#222" stroke-width="1.4"/>
<text x="15.20" y="488.50" font-size="6.7" text-anchor="middle" font-weight="bold" fill="#1a1a1a" transform="rotate(-90 15.20 488.50)">IFN-γ pg/ml</text>
<line x1="47.30" y1="529.84" x2="47.30" y2="532.18" stroke="#b02e2e" stroke-width="1.1"/>
<line x1="45.70" y1="529.84" x2="48.90" y2="529.84" stroke="#b02e2e" stroke-width="1.1"/>
<line x1="45.70" y1="532.18" x2="48.90" y2="532.18" stroke="#b02e2e" stroke-width="1.1"/>
<rect x="44.30" y="531.00" width="6.00" height="4.10" stroke="#b02e2e" stroke-width="1.2" fill="none"/>
<circle cx="45.80" cy="531.59" r="1.75" fill="#b02e2e"/>
<circle cx="49.90" cy="529.48" r="1.75" fill="#b02e2e"/>
<circle cx="46.80" cy="534.16" r="1.75" fill="#b02e2e"/>
<circle cx="44.80" cy="533.35" r="1.75" fill="#b02e2e"/>
<circle cx="48.80" cy="533.93" r="1.75" fill="#b02e2e"/>
<line x1="58.50" y1="502.34" x2="58.50" y2="521.06" stroke="#b02e2e" stroke-width="1.1"/>
<line x1="56.90" y1="502.34" x2="60.10" y2="502.34" stroke="#b02e2e" stroke-width="1.1"/>
<line x1="56.90" y1="521.06" x2="60.10" y2="521.06" stroke="#b02e2e" stroke-width="1.1"/>
<rect x="55.50" y="511.70" width="6.00" height="23.40" stroke="#b02e2e" stroke-width="1.2" fill="none"/>
<circle cx="56.50" cy="488.88" r="1.75" fill="#b02e2e"/>
<circle cx="60.70" cy="489.47" r="1.75" fill="#b02e2e"/>
<circle cx="57.90" cy="517.78" r="1.75" fill="#b02e2e"/>
<circle cx="60.10" cy="525.15" r="1.75" fill="#b02e2e"/>
<circle cx="58.50" cy="532.18" r="1.75" fill="#b02e2e"/>
<line x1="69.70" y1="532.06" x2="69.70" y2="533.46" stroke="#3c9a3c" stroke-width="1.1"/>
<line x1="68.10" y1="532.06" x2="71.30" y2="532.06" stroke="#3c9a3c" stroke-width="1.1"/>
<line x1="68.10" y1="533.46" x2="71.30" y2="533.46" stroke="#3c9a3c" stroke-width="1.1"/>
<rect x="66.70" y="532.76" width="6.00" height="2.34" stroke="#3c9a3c" stroke-width="1.2" fill="none"/>
<circle cx="67.70" cy="533.35" r="1.75" fill="#3c9a3c"/>
<circle cx="71.20" cy="531.59" r="1.75" fill="#3c9a3c"/>
<circle cx="69.70" cy="534.40" r="1.75" fill="#3c9a3c"/>
<circle cx="67.20" cy="534.63" r="1.75" fill="#3c9a3c"/>
<circle cx="72.20" cy="534.40" r="1.75" fill="#3c9a3c"/>
<line x1="80.90" y1="495.32" x2="80.90" y2="518.72" stroke="#3c9a3c" stroke-width="1.1"/>
<line x1="79.30" y1="495.32" x2="82.50" y2="495.32" stroke="#3c9a3c" stroke-width="1.1"/>
<line x1="79.30" y1="518.72" x2="82.50" y2="518.72" stroke="#3c9a3c" stroke-width="1.1"/>
<rect x="77.90" y="507.02" width="6.00" height="28.08" stroke="#3c9a3c" stroke-width="1.2" fill="none"/>
<circle cx="80.90" cy="467.24" r="1.75" fill="#3c9a3c"/>
<circle cx="80.90" cy="472.51" r="1.75" fill="#3c9a3c"/>
<circle cx="80.90" cy="518.49" r="1.75" fill="#3c9a3c"/>
<circle cx="78.50" cy="526.91" r="1.75" fill="#3c9a3c"/>
<circle cx="83.30" cy="526.91" r="1.75" fill="#3c9a3c"/>
<circle cx="80.90" cy="528.08" r="1.75" fill="#3c9a3c"/>
<line x1="92.10" y1="530.42" x2="92.10" y2="532.76" stroke="#2a2ad8" stroke-width="1.1"/>
<line x1="90.50" y1="530.42" x2="93.70" y2="530.42" stroke="#2a2ad8" stroke-width="1.1"/>
<line x1="90.50" y1="532.76" x2="93.70" y2="532.76" stroke="#2a2ad8" stroke-width="1.1"/>
<rect x="89.10" y="531.59" width="6.00" height="3.51" stroke="#2a2ad8" stroke-width="1.2" fill="none"/>
<circle cx="92.10" cy="525.51" r="1.75" fill="#2a2ad8"/>
<circle cx="90.50" cy="531.59" r="1.75" fill="#2a2ad8"/>
<circle cx="93.70" cy="531.59" r="1.75" fill="#2a2ad8"/>
<circle cx="90.10" cy="533.93" r="1.75" fill="#2a2ad8"/>
<circle cx="94.10" cy="533.93" r="1.75" fill="#2a2ad8"/>
<line x1="103.30" y1="508.78" x2="103.30" y2="522.82" stroke="#2a2ad8" stroke-width="1.1"/>
<line x1="101.70" y1="508.78" x2="104.90" y2="508.78" stroke="#2a2ad8" stroke-width="1.1"/>
<line x1="101.70" y1="522.82" x2="104.90" y2="522.82" stroke="#2a2ad8" stroke-width="1.1"/>
<rect x="100.30" y="515.80" width="6.00" height="19.30" stroke="#2a2ad8" stroke-width="1.2" fill="none"/>
<circle cx="103.30" cy="484.79" r="1.75" fill="#2a2ad8"/>
<circle cx="103.30" cy="506.08" r="1.75" fill="#2a2ad8"/>
<circle cx="100.70" cy="518.49" r="1.75" fill="#2a2ad8"/>
<circle cx="104.70" cy="518.49" r="1.75" fill="#2a2ad8"/>
<circle cx="103.30" cy="526.91" r="1.75" fill="#2a2ad8"/>
<circle cx="100.70" cy="531.59" r="1.75" fill="#2a2ad8"/>
<circle cx="104.70" cy="531.59" r="1.75" fill="#2a2ad8"/>
<line x1="114.50" y1="533.46" x2="114.50" y2="534.87" stroke="#8a2fc8" stroke-width="1.1"/>
<line x1="112.90" y1="533.46" x2="116.10" y2="533.46" stroke="#8a2fc8" stroke-width="1.1"/>
<line x1="112.90" y1="534.87" x2="116.10" y2="534.87" stroke="#8a2fc8" stroke-width="1.1"/>
<rect x="111.50" y="534.16" width="6.00" height="0.94" stroke="#8a2fc8" stroke-width="1.2" fill="none"/>
<circle cx="114.50" cy="529.48" r="1.75" fill="#8a2fc8"/>
<circle cx="112.10" cy="534.51" r="1.75" fill="#8a2fc8"/>
<circle cx="114.50" cy="534.75" r="1.75" fill="#8a2fc8"/>
<circle cx="116.90" cy="534.51" r="1.75" fill="#8a2fc8"/>
<circle cx="115.50" cy="534.16" r="1.75" fill="#8a2fc8"/>
<line x1="125.70" y1="506.44" x2="125.70" y2="522.82" stroke="#8a2fc8" stroke-width="1.1"/>
<line x1="124.10" y1="506.44" x2="127.30" y2="506.44" stroke="#8a2fc8" stroke-width="1.1"/>
<line x1="124.10" y1="522.82" x2="127.30" y2="522.82" stroke="#8a2fc8" stroke-width="1.1"/>
<rect x="122.70" y="514.62" width="6.00" height="20.48" stroke="#8a2fc8" stroke-width="1.2" fill="none"/>
<circle cx="125.70" cy="486.55" r="1.75" fill="#8a2fc8"/>
<circle cx="125.70" cy="505.27" r="1.75" fill="#8a2fc8"/>
<circle cx="125.70" cy="519.89" r="1.75" fill="#8a2fc8"/>
<circle cx="125.70" cy="526.91" r="1.75" fill="#8a2fc8"/>
<circle cx="125.70" cy="532.53" r="1.75" fill="#8a2fc8"/>
<line x1="47.30" y1="535.10" x2="47.30" y2="538.10" stroke="#222" stroke-width="1.1"/>
<text x="50.00" y="545.30" font-size="6.5" text-anchor="end" fill="#222" transform="rotate(-45 50.00 545.30)">Medium</text>
<line x1="58.50" y1="535.10" x2="58.50" y2="538.10" stroke="#222" stroke-width="1.1"/>
<text x="61.20" y="545.30" font-size="6.5" text-anchor="end" fill="#222" transform="rotate(-45 61.20 545.30)">RBD</text>
<line x1="69.70" y1="535.10" x2="69.70" y2="538.10" stroke="#222" stroke-width="1.1"/>
<text x="72.40" y="545.30" font-size="6.5" text-anchor="end" fill="#222" transform="rotate(-45 72.40 545.30)">Medium</text>
<line x1="80.90" y1="535.10" x2="80.90" y2="538.10" stroke="#222" stroke-width="1.1"/>
<text x="83.60" y="545.30" font-size="6.5" text-anchor="end" fill="#222" transform="rotate(-45 83.60 545.30)">RBD</text>
<line x1="92.10" y1="535.10" x2="92.10" y2="538.10" stroke="#222" stroke-width="1.1"/>
<text x="94.80" y="545.30" font-size="6.5" text-anchor="end" fill="#222" transform="rotate(-45 94.80 545.30)">Medium</text>
<line x1="103.30" y1="535.10" x2="103.30" y2="538.10" stroke="#222" stroke-width="1.1"/>
<text x="106.00" y="545.30" font-size="6.5" text-anchor="end" fill="#222" transform="rotate(-45 106.00 545.30)">RBD</text>
<line x1="114.50" y1="535.10" x2="114.50" y2="538.10" stroke="#222" stroke-width="1.1"/>
<text x="117.20" y="545.30" font-size="6.5" text-anchor="end" fill="#222" transform="rotate(-45 117.20 545.30)">Medium</text>
<line x1="125.70" y1="535.10" x2="125.70" y2="538.10" stroke="#222" stroke-width="1.1"/>
<text x="128.40" y="545.30" font-size="6.5" text-anchor="end" fill="#222" transform="rotate(-45 128.40 545.30)">RBD</text>
<line x1="47.70" y1="482.90" x2="58.80" y2="482.90" stroke="#333" stroke-width="1.5"/>
<polygon points="52.90,476.20 53.62,478.11 55.66,478.20 54.06,479.48 54.60,481.45 52.90,480.32 51.20,481.45 51.74,479.48 50.14,478.20 52.18,478.11" stroke="none" stroke-width="1" fill="#222"/>
<line x1="70.10" y1="461.30" x2="81.20" y2="461.30" stroke="#333" stroke-width="1.5"/>
<polygon points="71.80,454.60 72.52,456.51 74.56,456.60 72.96,457.88 73.50,459.85 71.80,458.72 70.10,459.85 70.64,457.88 69.04,456.60 71.08,456.51" stroke="none" stroke-width="1" fill="#222"/>
<polygon points="78.80,454.60 79.52,456.51 81.56,456.60 79.96,457.88 80.50,459.85 78.80,458.72 77.10,459.85 77.64,457.88 76.04,456.60 78.08,456.51" stroke="none" stroke-width="1" fill="#222"/>
<line x1="92.50" y1="478.90" x2="103.60" y2="478.90" stroke="#333" stroke-width="1.5"/>
<polygon points="97.70,472.20 98.42,474.11 100.46,474.20 98.86,475.48 99.40,477.45 97.70,476.32 96.00,477.45 96.54,475.48 94.94,474.20 96.98,474.11" stroke="none" stroke-width="1" fill="#222"/>
<line x1="114.90" y1="481.20" x2="126.00" y2="481.20" stroke="#333" stroke-width="1.5"/>
<polygon points="116.60,474.50 117.32,476.41 119.36,476.50 117.76,477.78 118.30,479.75 116.60,478.62 114.90,479.75 115.44,477.78 113.84,476.50 115.88,476.41" stroke="none" stroke-width="1" fill="#222"/>
<polygon points="123.60,474.50 124.32,476.41 126.36,476.50 124.76,477.78 125.30,479.75 123.60,478.62 121.90,479.75 122.44,477.78 120.84,476.50 122.88,476.41" stroke="none" stroke-width="1" fill="#222"/>
<text x="226.10" y="426.20" font-size="9.0" text-anchor="middle" font-weight="bold" fill="#111">TNF-α</text>
<text x="226.10" y="435.70" font-size="6.75" text-anchor="middle" font-weight="bold" fill="#111">Lung cells</text>
<line x1="178.90" y1="441.50" x2="178.90" y2="535.50" stroke="#222" stroke-width="1.3"/>
<line x1="175.90" y1="534.90" x2="178.90" y2="534.90" stroke="#222" stroke-width="1.1"/>
<text x="174.30" y="537.30" font-size="6.7" text-anchor="end" fill="#1a1a1a">0</text>
<line x1="175.90" y1="503.90" x2="178.90" y2="503.90" stroke="#222" stroke-width="1.1"/>
<text x="174.30" y="506.30" font-size="6.7" text-anchor="end" fill="#1a1a1a">1000</text>
<line x1="175.90" y1="472.90" x2="178.90" y2="472.90" stroke="#222" stroke-width="1.1"/>
<text x="174.30" y="475.30" font-size="6.7" text-anchor="end" fill="#1a1a1a">2000</text>
<line x1="175.90" y1="441.90" x2="178.90" y2="441.90" stroke="#222" stroke-width="1.1"/>
<text x="174.30" y="444.30" font-size="6.7" text-anchor="end" fill="#1a1a1a">3000</text>
<line x1="178.30" y1="534.90" x2="273.00" y2="534.90" stroke="#222" stroke-width="1.4"/>
<text x="154.50" y="488.50" font-size="6.7" text-anchor="middle" font-weight="bold" fill="#1a1a1a" transform="rotate(-90 154.50 488.50)">TNF-α pg/ml</text>
<line x1="186.80" y1="534.90" x2="186.80" y2="534.90" stroke="#b02e2e" stroke-width="1.1"/>
<line x1="185.20" y1="534.90" x2="188.40" y2="534.90" stroke="#b02e2e" stroke-width="1.1"/>
<line x1="185.20" y1="534.90" x2="188.40" y2="534.90" stroke="#b02e2e" stroke-width="1.1"/>
<rect x="183.80" y="534.90" width="6.00" height="0.00" stroke="#b02e2e" stroke-width="1.2" fill="none"/>
<circle cx="184.20" cy="534.90" r="1.75" fill="#b02e2e"/>
<circle cx="185.80" cy="534.90" r="1.75" fill="#b02e2e"/>
<circle cx="187.80" cy="534.90" r="1.75" fill="#b02e2e"/>
<circle cx="189.40" cy="534.90" r="1.75" fill="#b02e2e"/>
<circle cx="186.80" cy="534.90" r="1.75" fill="#b02e2e"/>
<line x1="198.00" y1="509.17" x2="198.00" y2="527.15" stroke="#b02e2e" stroke-width="1.1"/>
<line x1="196.40" y1="509.17" x2="199.60" y2="509.17" stroke="#b02e2e" stroke-width="1.1"/>
<line x1="196.40" y1="527.15" x2="199.60" y2="527.15" stroke="#b02e2e" stroke-width="1.1"/>
<rect x="195.00" y="518.16" width="6.00" height="16.74" stroke="#b02e2e" stroke-width="1.2" fill="none"/>
<circle cx="198.00" cy="473.83" r="1.75" fill="#b02e2e"/>
<circle cx="196.50" cy="521.88" r="1.75" fill="#b02e2e"/>
<circle cx="200.40" cy="523.12" r="1.75" fill="#b02e2e"/>
<circle cx="198.00" cy="527.89" r="1.75" fill="#b02e2e"/>
<circle cx="198.00" cy="531.18" r="1.75" fill="#b02e2e"/>
<line x1="209.40" y1="534.90" x2="209.40" y2="534.90" stroke="#3c9a3c" stroke-width="1.1"/>
<line x1="207.80" y1="534.90" x2="211.00" y2="534.90" stroke="#3c9a3c" stroke-width="1.1"/>
<line x1="207.80" y1="534.90" x2="211.00" y2="534.90" stroke="#3c9a3c" stroke-width="1.1"/>
<rect x="206.40" y="534.90" width="6.00" height="0.00" stroke="#3c9a3c" stroke-width="1.2" fill="none"/>
<circle cx="206.80" cy="534.90" r="1.75" fill="#3c9a3c"/>
<circle cx="208.40" cy="534.90" r="1.75" fill="#3c9a3c"/>
<circle cx="210.40" cy="534.90" r="1.75" fill="#3c9a3c"/>
<circle cx="212.00" cy="534.90" r="1.75" fill="#3c9a3c"/>
<circle cx="209.40" cy="534.90" r="1.75" fill="#3c9a3c"/>
<line x1="220.60" y1="520.02" x2="220.60" y2="524.98" stroke="#3c9a3c" stroke-width="1.1"/>
<line x1="219.00" y1="520.02" x2="222.20" y2="520.02" stroke="#3c9a3c" stroke-width="1.1"/>
<line x1="219.00" y1="524.98" x2="222.20" y2="524.98" stroke="#3c9a3c" stroke-width="1.1"/>
<rect x="217.60" y="522.50" width="6.00" height="12.40" stroke="#3c9a3c" stroke-width="1.2" fill="none"/>
<circle cx="220.60" cy="512.70" r="1.75" fill="#3c9a3c"/>
<circle cx="218.20" cy="522.50" r="1.75" fill="#3c9a3c"/>
<circle cx="223.00" cy="522.50" r="1.75" fill="#3c9a3c"/>
<circle cx="220.60" cy="524.05" r="1.75" fill="#3c9a3c"/>
<circle cx="220.60" cy="528.20" r="1.75" fill="#3c9a3c"/>
<line x1="232.00" y1="529.94" x2="232.00" y2="533.66" stroke="#2a2ad8" stroke-width="1.1"/>
<line x1="230.40" y1="529.94" x2="233.60" y2="529.94" stroke="#2a2ad8" stroke-width="1.1"/>
<line x1="230.40" y1="533.66" x2="233.60" y2="533.66" stroke="#2a2ad8" stroke-width="1.1"/>
<rect x="229.00" y="531.80" width="6.00" height="3.10" stroke="#2a2ad8" stroke-width="1.2" fill="none"/>
<circle cx="232.00" cy="523.21" r="1.75" fill="#2a2ad8"/>
<circle cx="229.60" cy="532.11" r="1.75" fill="#2a2ad8"/>
<circle cx="234.40" cy="532.11" r="1.75" fill="#2a2ad8"/>
<circle cx="231.00" cy="533.35" r="1.75" fill="#2a2ad8"/>
<circle cx="233.50" cy="533.66" r="1.75" fill="#2a2ad8"/>
<line x1="243.20" y1="485.30" x2="243.20" y2="510.10" stroke="#2a2ad8" stroke-width="1.1"/>
<line x1="241.60" y1="485.30" x2="244.80" y2="485.30" stroke="#2a2ad8" stroke-width="1.1"/>
<line x1="241.60" y1="510.10" x2="244.80" y2="510.10" stroke="#2a2ad8" stroke-width="1.1"/>
<rect x="240.20" y="497.70" width="6.00" height="37.20" stroke="#2a2ad8" stroke-width="1.2" fill="none"/>
<circle cx="243.20" cy="453.49" r="1.75" fill="#2a2ad8"/>
<circle cx="243.20" cy="468.19" r="1.75" fill="#2a2ad8"/>
<circle cx="243.20" cy="495.81" r="1.75" fill="#2a2ad8"/>
<circle cx="243.20" cy="518.10" r="1.75" fill="#2a2ad8"/>
<circle cx="240.50" cy="524.51" r="1.75" fill="#2a2ad8"/>
<circle cx="245.00" cy="523.71" r="1.75" fill="#2a2ad8"/>
<line x1="254.60" y1="534.90" x2="254.60" y2="534.90" stroke="#8a2fc8" stroke-width="1.1"/>
<line x1="253.00" y1="534.90" x2="256.20" y2="534.90" stroke="#8a2fc8" stroke-width="1.1"/>
<line x1="253.00" y1="534.90" x2="256.20" y2="534.90" stroke="#8a2fc8" stroke-width="1.1"/>
<rect x="251.60" y="534.90" width="6.00" height="0.00" stroke="#8a2fc8" stroke-width="1.2" fill="none"/>
<circle cx="252.00" cy="534.90" r="1.75" fill="#8a2fc8"/>
<circle cx="253.60" cy="534.90" r="1.75" fill="#8a2fc8"/>
<circle cx="255.60" cy="534.90" r="1.75" fill="#8a2fc8"/>
<circle cx="257.20" cy="534.90" r="1.75" fill="#8a2fc8"/>
<circle cx="254.60" cy="534.90" r="1.75" fill="#8a2fc8"/>
<line x1="265.80" y1="514.44" x2="265.80" y2="523.74" stroke="#8a2fc8" stroke-width="1.1"/>
<line x1="264.20" y1="514.44" x2="267.40" y2="514.44" stroke="#8a2fc8" stroke-width="1.1"/>
<line x1="264.20" y1="523.74" x2="267.40" y2="523.74" stroke="#8a2fc8" stroke-width="1.1"/>
<rect x="262.80" y="519.09" width="6.00" height="15.81" stroke="#8a2fc8" stroke-width="1.2" fill="none"/>
<circle cx="265.80" cy="495.41" r="1.75" fill="#8a2fc8"/>
<circle cx="265.80" cy="514.41" r="1.75" fill="#8a2fc8"/>
<circle cx="265.80" cy="519.49" r="1.75" fill="#8a2fc8"/>
<circle cx="263.60" cy="526.59" r="1.75" fill="#8a2fc8"/>
<circle cx="267.50" cy="527.09" r="1.75" fill="#8a2fc8"/>
<circle cx="265.80" cy="532.11" r="1.75" fill="#8a2fc8"/>
<line x1="186.80" y1="534.90" x2="186.80" y2="537.90" stroke="#222" stroke-width="1.1"/>
<text x="189.50" y="545.10" font-size="6.5" text-anchor="end" fill="#222" transform="rotate(-45 189.50 545.10)">Medium</text>
<line x1="198.00" y1="534.90" x2="198.00" y2="537.90" stroke="#222" stroke-width="1.1"/>
<text x="200.70" y="545.10" font-size="6.5" text-anchor="end" fill="#222" transform="rotate(-45 200.70 545.10)">RBD</text>
<line x1="209.40" y1="534.90" x2="209.40" y2="537.90" stroke="#222" stroke-width="1.1"/>
<text x="212.10" y="545.10" font-size="6.5" text-anchor="end" fill="#222" transform="rotate(-45 212.10 545.10)">Medium</text>
<line x1="220.60" y1="534.90" x2="220.60" y2="537.90" stroke="#222" stroke-width="1.1"/>
<text x="223.30" y="545.10" font-size="6.5" text-anchor="end" fill="#222" transform="rotate(-45 223.30 545.10)">RBD</text>
<line x1="232.00" y1="534.90" x2="232.00" y2="537.90" stroke="#222" stroke-width="1.1"/>
<text x="234.70" y="545.10" font-size="6.5" text-anchor="end" fill="#222" transform="rotate(-45 234.70 545.10)">Medium</text>
<line x1="243.20" y1="534.90" x2="243.20" y2="537.90" stroke="#222" stroke-width="1.1"/>
<text x="245.90" y="545.10" font-size="6.5" text-anchor="end" fill="#222" transform="rotate(-45 245.90 545.10)">RBD</text>
<line x1="254.60" y1="534.90" x2="254.60" y2="537.90" stroke="#222" stroke-width="1.1"/>
<text x="257.30" y="545.10" font-size="6.5" text-anchor="end" fill="#222" transform="rotate(-45 257.30 545.10)">Medium</text>
<line x1="265.80" y1="534.90" x2="265.80" y2="537.90" stroke="#222" stroke-width="1.1"/>
<text x="268.50" y="545.10" font-size="6.5" text-anchor="end" fill="#222" transform="rotate(-45 268.50 545.10)">RBD</text>
<line x1="187.20" y1="469.10" x2="198.30" y2="469.10" stroke="#333" stroke-width="1.5"/>
<polygon points="188.90,462.40 189.62,464.31 191.66,464.40 190.06,465.68 190.60,467.65 188.90,466.52 187.20,467.65 187.74,465.68 186.14,464.40 188.18,464.31" stroke="none" stroke-width="1" fill="#222"/>
<polygon points="195.90,462.40 196.62,464.31 198.66,464.40 197.06,465.68 197.60,467.65 195.90,466.52 194.20,467.65 194.74,465.68 193.14,464.40 195.18,464.31" stroke="none" stroke-width="1" fill="#222"/>
<line x1="209.80" y1="502.30" x2="220.90" y2="502.30" stroke="#333" stroke-width="1.5"/>
<polygon points="211.50,495.60 212.22,497.51 214.26,497.60 212.66,498.88 213.20,500.85 211.50,499.72 209.80,500.85 210.34,498.88 208.74,497.60 210.78,497.51" stroke="none" stroke-width="1" fill="#222"/>
<polygon points="218.50,495.60 219.22,497.51 221.26,497.60 219.66,498.88 220.20,500.85 218.50,499.72 216.80,500.85 217.34,498.88 215.74,497.60 217.78,497.51" stroke="none" stroke-width="1" fill="#222"/>
<line x1="232.40" y1="449.00" x2="243.50" y2="449.00" stroke="#333" stroke-width="1.5"/>
<polygon points="237.60,442.30 238.32,444.21 240.36,444.30 238.76,445.58 239.30,447.55 237.60,446.42 235.90,447.55 236.44,445.58 234.84,444.30 236.88,444.21" stroke="none" stroke-width="1" fill="#222"/>
<line x1="255.00" y1="503.70" x2="266.10" y2="503.70" stroke="#333" stroke-width="1.5"/>
<polygon points="256.70,497.00 257.42,498.91 259.46,499.00 257.86,500.28 258.40,502.25 256.70,501.12 255.00,502.25 255.54,500.28 253.94,499.00 255.98,498.91" stroke="none" stroke-width="1" fill="#222"/>
<polygon points="263.70,497.00 264.42,498.91 266.46,499.00 264.86,500.28 265.40,502.25 263.70,501.12 262.00,502.25 262.54,500.28 260.94,499.00 262.98,498.91" stroke="none" stroke-width="1" fill="#222"/>
<text x="364.40" y="427.00" font-size="9.0" text-anchor="middle" font-weight="bold" fill="#111">IL-5</text>
<text x="364.40" y="435.70" font-size="6.75" text-anchor="middle" font-weight="bold" fill="#111">Lung cells</text>
<line x1="317.50" y1="441.50" x2="317.50" y2="535.50" stroke="#222" stroke-width="1.3"/>
<line x1="314.50" y1="534.90" x2="317.50" y2="534.90" stroke="#222" stroke-width="1.1"/>
<text x="312.90" y="537.30" font-size="6.4" text-anchor="end" fill="#1a1a1a">0</text>
<line x1="314.50" y1="516.30" x2="317.50" y2="516.30" stroke="#222" stroke-width="1.1"/>
<text x="312.90" y="518.70" font-size="6.4" text-anchor="end" fill="#1a1a1a">2000</text>
<line x1="314.50" y1="497.70" x2="317.50" y2="497.70" stroke="#222" stroke-width="1.1"/>
<text x="312.90" y="500.10" font-size="6.4" text-anchor="end" fill="#1a1a1a">4000</text>
<line x1="314.50" y1="479.10" x2="317.50" y2="479.10" stroke="#222" stroke-width="1.1"/>
<text x="312.90" y="481.50" font-size="6.4" text-anchor="end" fill="#1a1a1a">6000</text>
<line x1="314.50" y1="460.50" x2="317.50" y2="460.50" stroke="#222" stroke-width="1.1"/>
<text x="312.90" y="462.90" font-size="6.4" text-anchor="end" fill="#1a1a1a">8000</text>
<line x1="314.50" y1="441.90" x2="317.50" y2="441.90" stroke="#222" stroke-width="1.1"/>
<text x="312.90" y="444.30" font-size="6.4" text-anchor="end" fill="#1a1a1a">10000</text>
<line x1="316.90" y1="534.90" x2="412.00" y2="534.90" stroke="#222" stroke-width="1.4"/>
<text x="291.50" y="488.50" font-size="6.7" text-anchor="middle" font-weight="bold" fill="#1a1a1a" transform="rotate(-90 291.50 488.50)">IL-5 pg/ml</text>
<line x1="325.10" y1="519.55" x2="325.10" y2="522.35" stroke="#b02e2e" stroke-width="1.1"/>
<line x1="323.50" y1="519.55" x2="326.70" y2="519.55" stroke="#b02e2e" stroke-width="1.1"/>
<line x1="323.50" y1="522.35" x2="326.70" y2="522.35" stroke="#b02e2e" stroke-width="1.1"/>
<rect x="322.10" y="520.95" width="6.00" height="13.95" stroke="#b02e2e" stroke-width="1.2" fill="none"/>
<circle cx="323.50" cy="518.62" r="1.75" fill="#b02e2e"/>
<circle cx="326.50" cy="518.62" r="1.75" fill="#b02e2e"/>
<circle cx="327.50" cy="520.49" r="1.75" fill="#b02e2e"/>
<circle cx="325.10" cy="521.32" r="1.75" fill="#b02e2e"/>
<circle cx="322.70" cy="520.95" r="1.75" fill="#b02e2e"/>
<line x1="336.20" y1="494.44" x2="336.20" y2="507.46" stroke="#b02e2e" stroke-width="1.1"/>
<line x1="334.60" y1="494.44" x2="337.80" y2="494.44" stroke="#b02e2e" stroke-width="1.1"/>
<line x1="334.60" y1="507.46" x2="337.80" y2="507.46" stroke="#b02e2e" stroke-width="1.1"/>
<rect x="333.20" y="500.95" width="6.00" height="33.94" stroke="#b02e2e" stroke-width="1.2" fill="none"/>
<circle cx="336.20" cy="473.05" r="1.75" fill="#b02e2e"/>
<circle cx="333.90" cy="496.49" r="1.75" fill="#b02e2e"/>
<circle cx="338.50" cy="496.77" r="1.75" fill="#b02e2e"/>
<circle cx="336.20" cy="501.61" r="1.75" fill="#b02e2e"/>
<circle cx="336.20" cy="514.07" r="1.75" fill="#b02e2e"/>
<circle cx="336.20" cy="520.76" r="1.75" fill="#b02e2e"/>
<line x1="347.75" y1="517.23" x2="347.75" y2="520.02" stroke="#3c9a3c" stroke-width="1.1"/>
<line x1="346.15" y1="517.23" x2="349.35" y2="517.23" stroke="#3c9a3c" stroke-width="1.1"/>
<line x1="346.15" y1="520.02" x2="349.35" y2="520.02" stroke="#3c9a3c" stroke-width="1.1"/>
<rect x="344.75" y="518.62" width="6.00" height="16.27" stroke="#3c9a3c" stroke-width="1.2" fill="none"/>
<circle cx="346.15" cy="517.32" r="1.75" fill="#3c9a3c"/>
<circle cx="349.35" cy="517.00" r="1.75" fill="#3c9a3c"/>
<circle cx="350.35" cy="518.90" r="1.75" fill="#3c9a3c"/>
<circle cx="346.75" cy="521.32" r="1.75" fill="#3c9a3c"/>
<circle cx="345.35" cy="524.02" r="1.75" fill="#3c9a3c"/>
<line x1="358.85" y1="496.30" x2="358.85" y2="509.32" stroke="#3c9a3c" stroke-width="1.1"/>
<line x1="357.25" y1="496.30" x2="360.45" y2="496.30" stroke="#3c9a3c" stroke-width="1.1"/>
<line x1="357.25" y1="509.32" x2="360.45" y2="509.32" stroke="#3c9a3c" stroke-width="1.1"/>
<rect x="355.85" y="502.81" width="6.00" height="32.08" stroke="#3c9a3c" stroke-width="1.2" fill="none"/>
<circle cx="358.85" cy="489.33" r="1.75" fill="#3c9a3c"/>
<circle cx="358.85" cy="492.86" r="1.75" fill="#3c9a3c"/>
<circle cx="358.85" cy="496.49" r="1.75" fill="#3c9a3c"/>
<circle cx="358.85" cy="501.61" r="1.75" fill="#3c9a3c"/>
<circle cx="358.85" cy="508.95" r="1.75" fill="#3c9a3c"/>
<circle cx="358.85" cy="526.06" r="1.75" fill="#3c9a3c"/>
<line x1="370.40" y1="525.13" x2="370.40" y2="527.00" stroke="#2a2ad8" stroke-width="1.1"/>
<line x1="368.80" y1="525.13" x2="372.00" y2="525.13" stroke="#2a2ad8" stroke-width="1.1"/>
<line x1="368.80" y1="527.00" x2="372.00" y2="527.00" stroke="#2a2ad8" stroke-width="1.1"/>
<rect x="367.40" y="526.06" width="6.00" height="8.84" stroke="#2a2ad8" stroke-width="1.2" fill="none"/>
<circle cx="368.00" cy="525.32" r="1.75" fill="#2a2ad8"/>
<circle cx="370.40" cy="525.00" r="1.75" fill="#2a2ad8"/>
<circle cx="372.80" cy="525.00" r="1.75" fill="#2a2ad8"/>
<circle cx="369.20" cy="526.53" r="1.75" fill="#2a2ad8"/>
<circle cx="371.60" cy="526.53" r="1.75" fill="#2a2ad8"/>
<line x1="381.50" y1="482.35" x2="381.50" y2="497.23" stroke="#2a2ad8" stroke-width="1.1"/>
<line x1="379.90" y1="482.35" x2="383.10" y2="482.35" stroke="#2a2ad8" stroke-width="1.1"/>
<line x1="379.90" y1="497.23" x2="383.10" y2="497.23" stroke="#2a2ad8" stroke-width="1.1"/>
<rect x="378.50" y="489.79" width="6.00" height="45.11" stroke="#2a2ad8" stroke-width="1.2" fill="none"/>
<circle cx="381.50" cy="462.82" r="1.75" fill="#2a2ad8"/>
<circle cx="381.50" cy="478.45" r="1.75" fill="#2a2ad8"/>
<circle cx="381.50" cy="483.28" r="1.75" fill="#2a2ad8"/>
<circle cx="381.50" cy="491.28" r="1.75" fill="#2a2ad8"/>
<circle cx="381.50" cy="501.61" r="1.75" fill="#2a2ad8"/>
<circle cx="381.50" cy="519.74" r="1.75" fill="#2a2ad8"/>
<line x1="393.05" y1="530.06" x2="393.05" y2="532.30" stroke="#8a2fc8" stroke-width="1.1"/>
<line x1="391.45" y1="530.06" x2="394.65" y2="530.06" stroke="#8a2fc8" stroke-width="1.1"/>
<line x1="391.45" y1="532.30" x2="394.65" y2="532.30" stroke="#8a2fc8" stroke-width="1.1"/>
<rect x="390.05" y="531.18" width="6.00" height="3.72" stroke="#8a2fc8" stroke-width="1.2" fill="none"/>
<circle cx="390.85" cy="530.25" r="1.75" fill="#8a2fc8"/>
<circle cx="393.05" cy="531.74" r="1.75" fill="#8a2fc8"/>
<circle cx="395.45" cy="529.69" r="1.75" fill="#8a2fc8"/>
<circle cx="392.05" cy="532.57" r="1.75" fill="#8a2fc8"/>
<circle cx="394.55" cy="532.11" r="1.75" fill="#8a2fc8"/>
<line x1="404.15" y1="523.74" x2="404.15" y2="529.32" stroke="#8a2fc8" stroke-width="1.1"/>
<line x1="402.55" y1="523.74" x2="405.75" y2="523.74" stroke="#8a2fc8" stroke-width="1.1"/>
<line x1="402.55" y1="529.32" x2="405.75" y2="529.32" stroke="#8a2fc8" stroke-width="1.1"/>
<rect x="401.15" y="526.53" width="6.00" height="8.37" stroke="#8a2fc8" stroke-width="1.2" fill="none"/>
<circle cx="402.75" cy="521.32" r="1.75" fill="#8a2fc8"/>
<circle cx="405.55" cy="521.32" r="1.75" fill="#8a2fc8"/>
<circle cx="404.15" cy="526.62" r="1.75" fill="#8a2fc8"/>
<circle cx="404.15" cy="528.48" r="1.75" fill="#8a2fc8"/>
<circle cx="404.15" cy="531.18" r="1.75" fill="#8a2fc8"/>
<line x1="325.10" y1="534.90" x2="325.10" y2="537.90" stroke="#222" stroke-width="1.1"/>
<text x="327.80" y="545.10" font-size="6.5" text-anchor="end" fill="#222" transform="rotate(-45 327.80 545.10)">Medium</text>
<line x1="336.20" y1="534.90" x2="336.20" y2="537.90" stroke="#222" stroke-width="1.1"/>
<text x="338.90" y="545.10" font-size="6.5" text-anchor="end" fill="#222" transform="rotate(-45 338.90 545.10)">RBD</text>
<line x1="347.75" y1="534.90" x2="347.75" y2="537.90" stroke="#222" stroke-width="1.1"/>
<text x="350.45" y="545.10" font-size="6.5" text-anchor="end" fill="#222" transform="rotate(-45 350.45 545.10)">Medium</text>
<line x1="358.85" y1="534.90" x2="358.85" y2="537.90" stroke="#222" stroke-width="1.1"/>
<text x="361.55" y="545.10" font-size="6.5" text-anchor="end" fill="#222" transform="rotate(-45 361.55 545.10)">RBD</text>
<line x1="370.40" y1="534.90" x2="370.40" y2="537.90" stroke="#222" stroke-width="1.1"/>
<text x="373.10" y="545.10" font-size="6.5" text-anchor="end" fill="#222" transform="rotate(-45 373.10 545.10)">Medium</text>
<line x1="381.50" y1="534.90" x2="381.50" y2="537.90" stroke="#222" stroke-width="1.1"/>
<text x="384.20" y="545.10" font-size="6.5" text-anchor="end" fill="#222" transform="rotate(-45 384.20 545.10)">RBD</text>
<line x1="393.05" y1="534.90" x2="393.05" y2="537.90" stroke="#222" stroke-width="1.1"/>
<text x="395.75" y="545.10" font-size="6.5" text-anchor="end" fill="#222" transform="rotate(-45 395.75 545.10)">Medium</text>
<line x1="404.15" y1="534.90" x2="404.15" y2="537.90" stroke="#222" stroke-width="1.1"/>
<text x="406.85" y="545.10" font-size="6.5" text-anchor="end" fill="#222" transform="rotate(-45 406.85 545.10)">RBD</text>
<line x1="370.80" y1="458.50" x2="381.80" y2="458.50" stroke="#333" stroke-width="1.5"/>
<polygon points="372.45,451.80 373.17,453.71 375.21,453.80 373.61,455.08 374.15,457.05 372.45,455.92 370.75,457.05 371.29,455.08 369.69,453.80 371.73,453.71" stroke="none" stroke-width="1" fill="#222"/>
<polygon points="379.45,451.80 380.17,453.71 382.21,453.80 380.61,455.08 381.15,457.05 379.45,455.92 377.75,457.05 378.29,455.08 376.69,453.80 378.73,453.71" stroke="none" stroke-width="1" fill="#222"/>
<circle cx="422.40" cy="447.30" r="1.5" fill="#b02e2e"/>
<text x="433.10" y="449.80" font-size="7.05" text-anchor="start" fill="#222">ARVAC Gamma/ XBB.1.5</text>
<circle cx="422.40" cy="457.90" r="1.5" fill="#3c9a3c"/>
<text x="433.10" y="460.40" font-size="7.05" text-anchor="start" fill="#222">ARVAC Omicron BA.4/5</text>
<circle cx="422.40" cy="468.50" r="1.5" fill="#2a2ad8"/>
<text x="433.10" y="471.00" font-size="7.05" text-anchor="start" fill="#222">ARVAC Gamma/Omicron BA.4/5</text>
<circle cx="422.40" cy="479.10" r="1.5" fill="#8a2fc8"/>
<text x="433.10" y="481.60" font-size="7.05" text-anchor="start" fill="#222">ARVAC Gamma/ XBB.1.5</text>
</svg>
</body></html>
